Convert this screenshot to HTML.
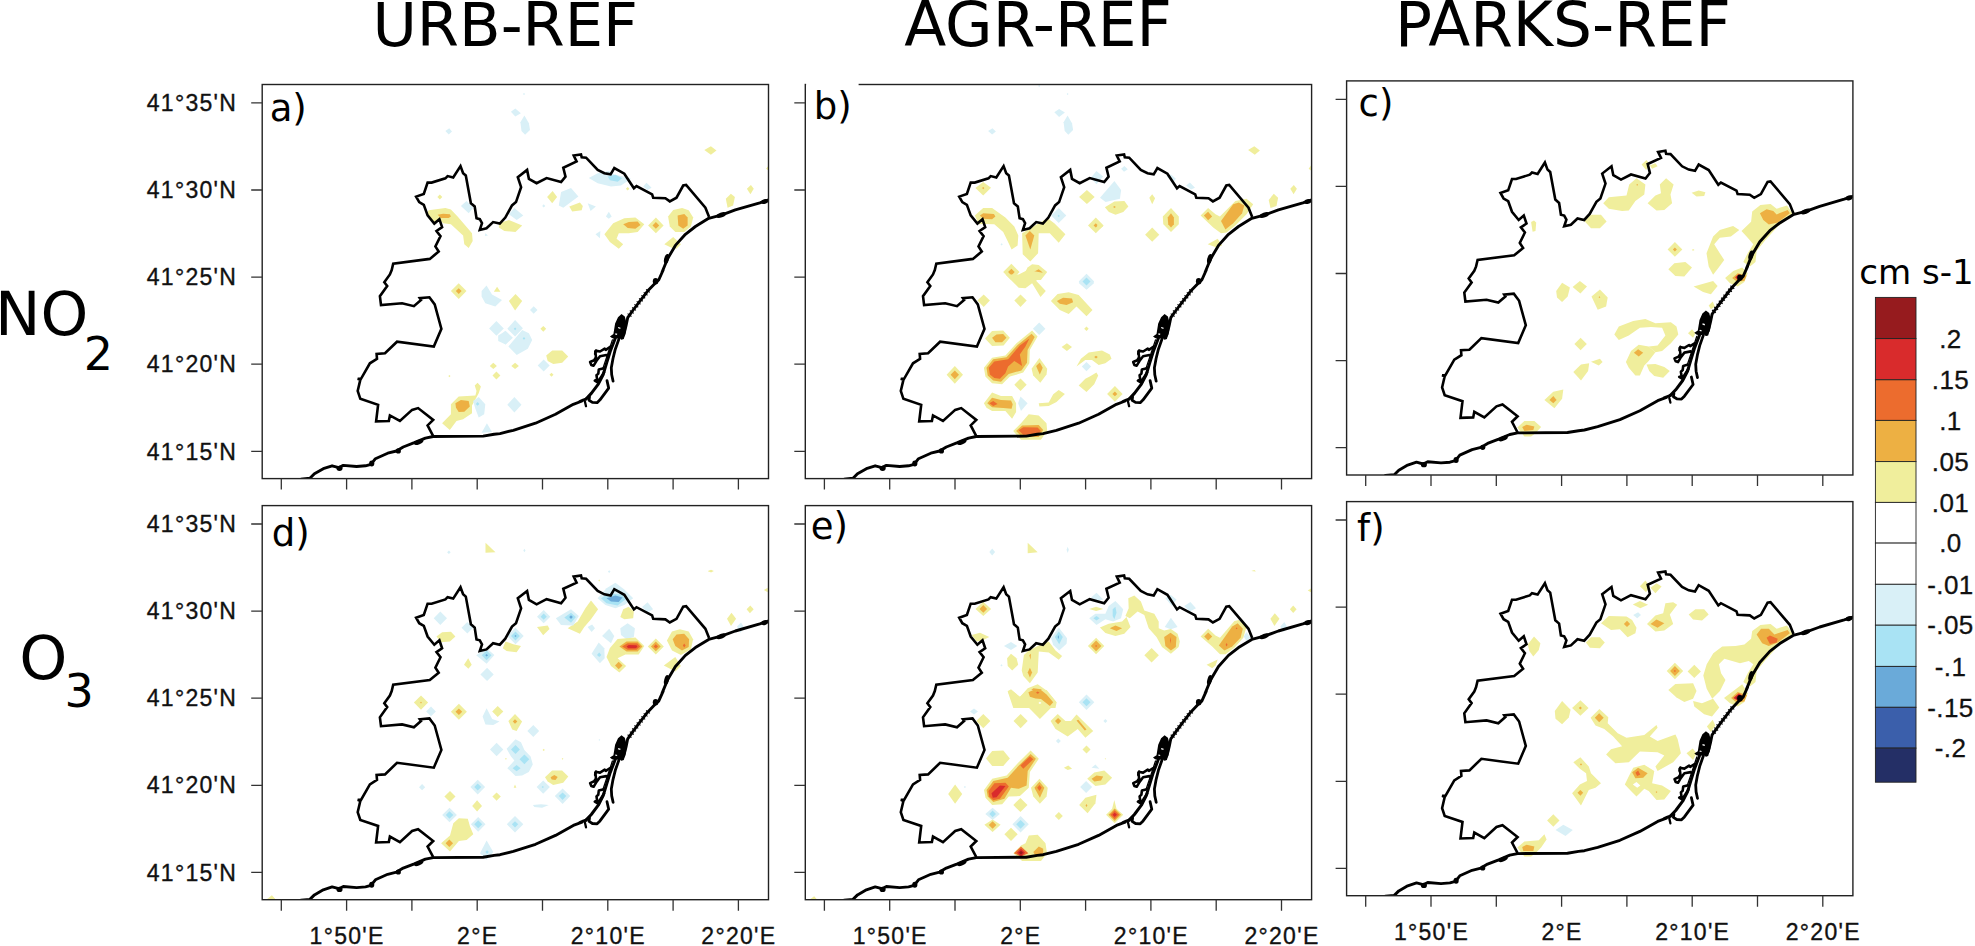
<!DOCTYPE html>
<html><head><meta charset="utf-8"><title>Figure</title>
<style>html,body{margin:0;padding:0;background:#fff}svg{display:block}.t{font-family:"Liberation Sans",sans-serif;font-size:23px;fill:#111;stroke:#111;stroke-width:0.35px;letter-spacing:1.3px}.cb{font-family:"Liberation Sans",sans-serif;font-size:26px;fill:#111;stroke:#111;stroke-width:0.3px;letter-spacing:0.4px}.d{font-family:"DejaVu Sans","Liberation Sans",sans-serif;fill:#000}.fr{fill:none;stroke:#222;stroke-width:1.4}.tk{stroke:#333;stroke-width:1.3;fill:none}.co{fill:none;stroke:#000;stroke-width:2.9;stroke-linejoin:round;stroke-linecap:round}.ou{fill:none;stroke:#000;stroke-width:2.6;stroke-linejoin:miter}</style></head><body>
<svg width="1975" height="946" viewBox="0 0 1975 946">
<rect width="1975" height="946" fill="#fff"/>
<defs><clipPath id="cp"><rect x="0" y="0" width="506.3" height="394.1"/></clipPath></defs>
<g transform="translate(262.2,84.5)">
<g clip-path="url(#cp)">
<polygon points="183.2,46.6 187.0,43.7 189.8,47.0 186.5,49.9" fill="#d9f0f7"/>
<polygon points="248.7,27.2 253.1,23.9 258.7,28.8 253.1,32.1" fill="#d9f0f7"/>
<polygon points="175.2,112.5 177.6,110.1 180.1,112.5 177.6,114.9" fill="#f0ee9c"/>
<polygon points="164.3,129.4 166.5,125.8 183.2,123.6 188.7,124.9 195.4,132.0 209.8,148.7 210.5,156.5 206.5,163.6 202.1,159.8 200.9,150.9 188.7,139.8 181.0,138.7 176.5,134.7 172.1,139.1 165.4,132.0" fill="#f0ee9c"/>
<polygon points="175.4,130.3 181.0,129.2 187.6,129.8 188.7,132.0 186.5,133.6 178.7,133.6" fill="#edb043"/>
<polygon points="198.7,121.4 204.3,116.5 210.9,123.2 206.5,128.7" fill="#d9f0f7"/>
<polygon points="223.1,148.7 225.8,150.9 222.7,151.6" fill="#d9f0f7"/>
<polygon points="260.7,9.5 261.8,8.4 262.9,9.5 261.8,10.6" fill="#d9f0f7"/>
<polygon points="258.2,37.7 262.2,31.0 266.7,38.8 267.8,45.4 262.9,50.3 259.3,46.6" fill="#d9f0f7"/>
<polygon points="442.1,65.4 448.7,61.7 454.3,65.9 448.7,70.3" fill="#f0ee9c"/>
<polygon points="503.8,84.3 506.5,81.0 506.5,85.9" fill="#f0ee9c"/>
<polygon points="326.6,93.6 335.5,88.7 346.6,86.5 352.1,89.9 361.0,92.1 368.8,94.3 358.8,101.0 348.8,102.1 335.5,98.7" fill="#d9f0f7"/>
<polygon points="345.5,92.1 353.3,90.3 359.9,93.8 355.5,97.2 347.7,95.8" fill="#a9e3f4"/>
<polygon points="381.0,102.1 384.3,98.3 389.4,103.2 385.4,105.4" fill="#d9f0f7"/>
<polygon points="363.7,104.3 365.5,102.5 367.2,104.3 365.5,106.1" fill="#f0ee9c"/>
<polygon points="284.9,112.5 290.4,106.5 294.9,112.5 290.0,118.7" fill="#f0ee9c"/>
<polygon points="298.9,107.6 308.8,103.6 316.2,112.1 308.8,117.6 301.1,123.2 296.6,120.9" fill="#d9f0f7"/>
<polygon points="307.1,122.0 317.7,118.0 320.6,121.4 319.5,125.8 310.0,126.9" fill="#f0ee9c"/>
<polygon points="325.5,118.7 333.7,122.0 328.4,126.5" fill="#d9f0f7"/>
<polygon points="280.0,121.4 281.5,119.8 283.1,121.4 281.5,122.9" fill="#d9f0f7"/>
<polygon points="343.7,132.0 346.6,127.2 349.5,132.0 346.6,134.3" fill="#d9f0f7"/>
<polygon points="246.7,129.8 252.2,123.6 261.1,130.9 254.5,135.4" fill="#d9f0f7"/>
<polygon points="236.7,138.7 246.7,135.4 260.0,140.9 253.3,147.6 242.2,146.5 236.7,143.1" fill="#f0ee9c"/>
<polygon points="342.2,149.8 351.0,138.7 362.1,133.8 373.2,133.1 382.1,139.8 375.5,147.6 366.6,148.7 356.6,148.7 354.4,154.2 361.0,159.8 356.6,164.2 347.7,157.6" fill="#f0ee9c"/>
<polygon points="361.0,139.8 366.6,137.6 375.5,137.1 378.3,140.5 373.2,144.2 365.5,143.6" fill="#edb043"/>
<polygon points="385.9,140.9 393.7,133.1 401.4,140.9 393.7,148.7" fill="#f0ee9c"/>
<polygon points="390.3,140.9 393.7,137.6 397.0,140.9 393.7,144.2" fill="#edb043"/>
<polygon points="405.9,132.0 411.0,125.4 419.9,123.6 426.5,125.8 431.0,133.1 428.7,142.0 422.1,147.6 413.2,147.6 407.6,142.0" fill="#f0ee9c"/>
<polygon points="415.4,130.9 422.1,129.4 425.4,133.1 425.4,140.9 421.0,144.2 416.1,140.9" fill="#edb043"/>
<polygon points="402.1,159.8 411.0,152.5 418.8,159.8 414.3,164.2 408.8,163.1" fill="#f0ee9c"/>
<polygon points="333.3,149.8 338.2,146.5 337.7,153.8" fill="#d9f0f7"/>
<polygon points="463.6,114.3 468.7,109.2 472.7,112.5 470.9,120.9 465.4,123.2" fill="#f0ee9c"/>
<polygon points="484.7,104.3 488.7,100.5 491.6,104.3 488.2,109.8" fill="#f0ee9c"/>
<polygon points="188.7,206.6 196.5,198.8 204.3,206.6 196.5,214.4" fill="#f0ee9c"/>
<polygon points="193.6,206.6 196.5,203.7 199.4,206.6 196.5,209.5" fill="#edb043"/>
<polygon points="219.4,206.6 224.3,201.0 229.8,209.9 239.8,215.5 233.1,222.1 223.1,218.8 219.4,212.1" fill="#d9f0f7"/>
<polygon points="231.6,207.3 234.9,202.2 238.2,207.3" fill="#f0ee9c"/>
<polygon points="226.9,243.9 234.2,236.6 241.6,243.9 234.2,251.2" fill="#d9f0f7"/>
<polygon points="236.2,253.2 243.1,246.3 250.0,253.2 243.1,260.1" fill="#d9f0f7"/>
<polygon points="230.3,291.0 234.2,287.0 238.2,291.0 234.2,295.0" fill="#f0ee9c"/>
<polygon points="186.1,291.6 187.2,290.5 188.3,291.6 187.2,292.7" fill="#f0ee9c"/>
<polygon points="179.9,338.7 188.7,329.8 188.7,319.8 196.5,312.1 213.2,310.9 214.3,306.5 212.5,301.0 215.4,298.3 218.7,302.1 216.5,308.7 209.8,320.9 209.8,328.7 200.9,334.7 194.3,336.5 187.6,345.4" fill="#f0ee9c"/>
<polygon points="193.2,318.7 198.7,315.4 206.5,316.5 207.6,322.0 202.1,327.2 196.5,327.6 193.8,323.2" fill="#edb043"/>
<polygon points="210.9,316.5 216.5,312.5 223.1,319.8 222.0,329.8 216.5,333.1 213.2,324.3" fill="#d9f0f7"/>
<polygon points="213.6,319.4 215.4,317.6 217.2,319.4 215.4,321.2" fill="#a9e3f4"/>
<polygon points="219.4,348.2 224.7,338.7 229.8,347.6" fill="#d9f0f7"/>
<polygon points="246.7,216.6 253.3,209.5 260.0,216.6 252.9,226.1" fill="#f0ee9c"/>
<polygon points="267.8,225.5 271.5,221.7 275.3,225.5 271.5,229.2" fill="#d9f0f7"/>
<polygon points="245.1,244.3 252.9,235.5 260.7,243.7 252.9,252.1" fill="#d9f0f7"/>
<polygon points="236.0,251.0 243.4,246.6 250.7,253.2 243.4,259.9 236.0,256.5" fill="#d9f0f7"/>
<polygon points="246.2,262.1 260.0,245.4 266.7,248.8 270.0,255.4 265.6,264.3 254.5,270.5" fill="#d9f0f7"/>
<polygon points="251.6,244.3 252.9,243.0 254.2,244.3 252.9,245.7" fill="#a9e3f4"/>
<polygon points="260.4,253.9 261.8,252.6 263.1,253.9 261.8,255.2" fill="#a9e3f4"/>
<polygon points="278.2,244.3 281.1,241.5 284.0,244.3 281.1,247.2" fill="#f0ee9c"/>
<polygon points="284.0,271.0 290.0,265.9 300.0,265.9 306.0,272.1 300.0,278.3 291.1,279.4 285.5,276.5" fill="#f0ee9c"/>
<polygon points="275.5,281.0 281.5,275.0 287.5,281.0 281.5,287.0" fill="#d9f0f7"/>
<polygon points="249.1,281.4 252.9,278.3 256.7,281.4 252.9,284.5" fill="#f0ee9c"/>
<polygon points="287.3,290.3 289.3,288.3 291.3,290.3 289.3,292.3" fill="#f0ee9c"/>
<polygon points="245.1,320.3 252.2,312.5 259.3,320.3 252.2,328.0" fill="#d9f0f7"/>
<polygon points="227.6,281.4 231.1,278.3 234.7,281.4 231.1,284.5" fill="#f0ee9c"/>
<polyline class="co" points="507.8,114.9 497.6,118.3 473.1,125.4 459.8,130.3 446.5,133.8 433.2,142.0 423.2,149.8 413.2,160.9 405.4,174.2 399.9,187.5 401.0,185.5 396.5,195.5 393.2,198.4 385.4,206.6 377.7,216.6 371.0,225.5 365.5,233.2 363.9,241.0 361.7,249.9 359.5,253.2"/>
<polyline class="co" points="323.8,314.5 320.9,315.6 317.5,317.0 319.9,316.5 311.1,319.8 293.3,329.8 273.3,338.7 251.1,345.8 237.8,349.1 232.0,349.8 220.9,351.6 171.0,352.0 163.2,353.6 152.1,358.2 141.0,362.5 134.3,366.5 125.5,368.7 113.2,374.2 108.8,379.8 103.3,381.3 94.4,382.0 81.1,380.9 76.6,383.1 69.9,381.3 61.1,384.2 52.2,389.3 47.7,393.8 38.9,394.6"/>
<polyline points="386.1,205.9 377.7,216.6 371.0,225.5 367.0,231.0" fill="none" stroke="#000" stroke-width="4.8" stroke-dasharray="1.1 2.7"/>
<ellipse cx="459.0" cy="130.6" rx="5.0" ry="2.4" transform="rotate(-20 459.0 130.6)" fill="#000"/>
<ellipse cx="502.5" cy="117.0" rx="3.6" ry="2.4" transform="rotate(-15 502.5 117.0)" fill="#000"/>
<ellipse cx="404.4" cy="174.4" rx="2.4" ry="5.0" transform="rotate(15 404.4 174.4)" fill="#000"/>
<ellipse cx="393.4" cy="196.7" rx="2.8" ry="3.2" transform="rotate(0 393.4 196.7)" fill="#000"/>
<ellipse cx="156.5" cy="357.6" rx="5.0" ry="2.2" transform="rotate(-22 156.5 357.6)" fill="#000"/>
<ellipse cx="136.1" cy="366.4" rx="2.6" ry="2.6" transform="rotate(0 136.1 366.4)" fill="#000"/>
<ellipse cx="109.5" cy="379.1" rx="2.6" ry="3.0" transform="rotate(0 109.5 379.1)" fill="#000"/>
<ellipse cx="77.3" cy="383.8" rx="3.0" ry="2.6" transform="rotate(0 77.3 383.8)" fill="#000"/>
<polyline class="ou" points="171.0,351.6 165.4,340.9 171.0,335.4 155.9,323.6 149.9,325.4 137.7,336.5 127.7,330.9 126.6,336.5 113.9,336.9 115.9,320.3 98.1,314.3 95.5,306.5 98.1,295.4 95.5,294.3 98.8,294.3 107.7,278.8 114.8,274.3 114.4,269.4 122.8,268.8 134.8,257.2 171.6,262.1 179.2,244.3 172.5,219.9 167.2,212.8 157.6,213.7 158.8,215.5 151.7,221.7 139.9,218.8 118.8,220.6 117.7,211.7 125.0,201.5 122.1,197.7 127.7,189.9 129.5,185.5 131.0,179.1 167.6,174.4 176.5,167.1 173.2,162.0 178.3,151.6 174.3,146.5 179.9,142.7 177.2,134.7 172.1,139.1 165.4,130.9 161.6,120.3 157.0,117.6 153.9,112.1 161.6,109.4 165.4,98.1 169.4,98.1 183.2,93.8 185.4,91.6 191.0,93.0 198.3,81.6 200.9,88.7 203.6,91.0 208.7,118.7 212.5,122.0 214.3,133.8 217.6,134.7 219.8,138.7 217.6,145.4 224.3,143.8 230.9,137.6 237.6,139.1 243.1,133.1 249.8,120.9 253.8,117.6 258.9,102.7 255.6,92.7 264.9,85.4 266.7,94.3 274.4,98.7 284.4,93.6 298.9,97.6 303.3,92.1 301.1,83.2 314.4,77.0 311.5,71.0 318.8,69.9 319.5,72.8 323.9,73.2 335.5,85.4 342.2,88.7 348.4,89.9 352.1,83.6 362.1,89.2 371.7,103.8 374.3,101.6 389.9,109.8 391.0,113.2 403.2,113.8 407.6,116.9 414.3,113.2 421.0,101.0 423.9,100.5 443.2,123.2 446.9,132.5"/>
<polygon points="359.3,229.6 362.6,232.1 364.5,239.1 363.7,247.2 361.6,254.5 359.3,255.2 357.6,253.6 352.9,254.5 349.8,253.6 347.7,251.9 351.2,249.6 352.9,239.1 355.8,232.7" fill="#000"/>
<polygon points="356.1,242.4 358.4,243.2 358.0,244.5 355.7,243.6" fill="#fff"/>
<polygon points="353.3,248.8 355.1,249.3 354.7,250.5 352.8,249.9" fill="#fff"/>
<polyline points="356.8,254.2 353.1,264.7 350.8,274.0 349.1,283.3 349.5,290.3 350.9,296.7" fill="none" stroke="#000" stroke-width="2.8" stroke-linejoin="round" stroke-linecap="round"/>
<polyline points="352.9,254.2 348.0,267.0 344.4,278.6 340.9,290.3 336.1,299.6 329.1,308.9 323.8,314.5" fill="none" stroke="#000" stroke-width="3.0" stroke-linejoin="round" stroke-linecap="round"/>
<polyline points="350.2,255.4 345.6,269.3 340.7,283.9" fill="none" stroke="#000" stroke-width="1.3" stroke-linejoin="round" stroke-linecap="round"/>
<polyline points="348.0,262.4 343.6,265.3 342.5,264.1 337.8,267.0 334.3,266.4 333.1,267.0 333.8,272.8 332.0,275.7 327.9,277.5 329.1,280.4 331.4,281.2 334.3,276.3 337.8,271.7 344.2,270.5 345.9,272.2" fill="none" stroke="#000" stroke-width="2.6" stroke-linejoin="round" stroke-linecap="round"/>
<polyline points="340.7,283.9 336.6,285.0 336.1,289.1 334.3,290.8 334.9,294.9 332.6,296.1 335.5,297.8 341.9,287.9" fill="none" stroke="#000" stroke-width="2.6" stroke-linejoin="round" stroke-linecap="round"/>
<polyline points="344.8,296.1 346.5,303.6 337.8,315.3 334.9,318.2 330.2,317.9 326.8,315.8 327.3,312.4" fill="none" stroke="#000" stroke-width="2.8" stroke-linejoin="round" stroke-linecap="round"/>
<polyline points="322.7,317.0 323.8,321.7" fill="none" stroke="#000" stroke-width="2.3" stroke-linejoin="round" stroke-linecap="round"/>
<polyline points="333.7,265.8 332.8,269.3" fill="none" stroke="#000" stroke-width="2.3" stroke-linejoin="round" stroke-linecap="round"/>
</g>
<rect class="fr" x="0" y="0" width="506.3" height="394.1"/>
<path class="tk" d="M19.1 394.1v11M84.4 394.1v11M149.7 394.1v11M215.0 394.1v11M280.3 394.1v11M345.6 394.1v11M410.9 394.1v11M476.2 394.1v11M0 18.4h-11M0 105.5h-11M0 192.6h-11M0 279.7h-11M0 366.8h-11"/>
<text class="d" x="7.5" y="36.0" font-size="37">a)</text>
<text class="t" x="-25" y="26.6" text-anchor="end">41°35'N</text>
<text class="t" x="-25" y="113.7" text-anchor="end">41°30'N</text>
<text class="t" x="-25" y="200.8" text-anchor="end">41°25'N</text>
<text class="t" x="-25" y="287.9" text-anchor="end">41°20'N</text>
<text class="t" x="-25" y="375.0" text-anchor="end">41°15'N</text>
</g>
<g transform="translate(805.3,84.5)">
<g clip-path="url(#cp)">
<polygon points="232.8,1.5 233.9,0.4 235.0,1.5 233.9,2.6" fill="#d9f0f7"/>
<polygon points="261.4,9.5 262.3,8.6 263.2,9.5 262.3,10.4" fill="#d9f0f7"/>
<polygon points="249.0,27.7 253.8,24.4 259.6,28.1 253.8,32.6" fill="#d9f0f7"/>
<polygon points="258.3,37.7 262.3,31.0 266.7,38.8 267.8,45.4 263.0,50.3 259.4,46.6" fill="#d9f0f7"/>
<polygon points="182.8,46.6 187.2,43.7 190.6,47.0 186.8,49.9" fill="#d9f0f7"/>
<polygon points="170.1,103.6 177.9,97.6 185.7,103.2 177.9,110.9" fill="#f0ee9c"/>
<polygon points="176.8,103.6 177.9,102.5 179.0,103.6 177.9,104.7" fill="#edb043"/>
<polygon points="169.5,130.9 177.9,123.6 186.8,123.6 200.1,133.1 209.0,142.0 213.0,150.9 212.3,160.9 206.3,164.9 202.3,156.5 197.9,147.6 189.0,139.8 179.0,139.4 173.5,139.8" fill="#f0ee9c"/>
<polygon points="174.6,130.9 177.9,128.7 188.6,129.4 190.1,132.0 186.8,134.7 177.9,134.3" fill="#edb043"/>
<polygon points="216.8,148.7 222.3,145.4 233.4,138.7 242.3,133.8 249.0,138.7 260.1,149.8 253.4,158.2 244.5,148.7 233.4,148.7 232.8,168.7 225.0,176.9 217.4,169.8" fill="#f0ee9c"/>
<polygon points="220.1,150.9 224.5,146.5 229.0,150.9 225.0,164.9" fill="#edb043"/>
<polygon points="245.9,130.9 253.4,123.4 261.0,130.9 253.4,138.5" fill="#d9f0f7"/>
<polygon points="252.3,131.4 253.4,130.3 254.5,131.4 253.4,132.5" fill="#a9e3f4"/>
<polygon points="273.8,112.5 281.6,105.4 289.4,112.5 281.6,119.6" fill="#f0ee9c"/>
<polygon points="285.6,93.2 291.1,86.5 297.8,92.1 291.1,99.8" fill="#d9f0f7"/>
<polygon points="282.7,140.9 290.5,133.1 298.3,140.9 290.5,148.7" fill="#f0ee9c"/>
<polygon points="288.3,140.9 290.5,138.7 292.7,140.9 290.5,143.1" fill="#edb043"/>
<polygon points="195.2,159.8 196.3,158.7 197.5,159.8 196.3,160.9" fill="#d9f0f7"/>
<polygon points="197.9,187.5 206.1,179.3 214.3,187.5 206.1,195.8" fill="#f0ee9c"/>
<polygon points="202.8,187.5 206.1,184.2 209.4,187.5 206.1,190.9" fill="#edb043"/>
<polygon points="215.7,195.5 222.3,183.1 226.8,179.8 233.4,180.4 241.9,187.5 235.6,195.5" fill="#f0ee9c"/>
<polygon points="227.2,188.0 233.4,184.7 237.4,188.0 233.4,191.3" fill="#edb043"/>
<polygon points="273.4,198.6 281.2,189.8 288.9,198.6 281.2,205.3" fill="#d9f0f7"/>
<polygon points="315.8,84.3 319.1,81.4 322.5,84.7 318.7,87.2" fill="#d9f0f7"/>
<polygon points="294.7,113.2 309.1,96.5 315.8,105.4 314.7,114.3 300.3,117.6" fill="#d9f0f7"/>
<polygon points="299.6,122.7 309.1,116.9 319.1,116.5 323.1,122.0 318.0,127.6 310.2,130.3 303.6,127.6" fill="#f0ee9c"/>
<polygon points="307.8,122.5 309.1,121.6 310.5,122.5 309.1,123.4" fill="#edb043"/>
<polygon points="291.4,141.4 294.7,138.5 298.0,141.4 294.7,144.2" fill="#f0ee9c"/>
<polygon points="344.0,113.2 346.9,109.8 349.8,113.8 346.9,119.8" fill="#f0ee9c"/>
<polygon points="357.5,132.0 365.7,123.6 373.5,132.0 373.5,139.8 365.7,147.6 358.0,139.8" fill="#f0ee9c"/>
<polygon points="362.4,133.1 365.7,128.7 368.6,133.1 368.6,139.8 365.7,143.1 362.9,139.8" fill="#edb043"/>
<polygon points="339.8,150.2 346.9,143.1 354.0,150.2 346.9,157.3" fill="#f0ee9c"/>
<polygon points="361.3,92.1 365.7,89.9 370.6,94.3 368.0,97.6" fill="#d9f0f7"/>
<polygon points="380.8,101.0 384.6,98.1 389.7,103.2 385.7,104.9" fill="#d9f0f7"/>
<polygon points="395.3,130.9 402.8,123.6 410.2,129.8 414.6,132.0 430.1,116.5 441.2,114.3 447.9,119.8 441.2,129.8 430.1,140.9 421.3,148.0 415.7,148.7 407.9,143.1" fill="#f0ee9c"/>
<polygon points="398.6,130.9 402.8,127.2 406.8,132.0 402.8,135.8" fill="#edb043"/>
<polygon points="415.7,136.5 427.9,119.8 433.5,118.0 439.0,120.9 436.8,128.7 427.9,138.7 420.1,144.9" fill="#edb043"/>
<polygon points="402.4,159.8 412.4,154.2 416.8,160.9 411.3,163.1" fill="#f0ee9c"/>
<polygon points="442.8,65.4 449.0,61.7 454.6,65.9 449.5,70.3" fill="#f0ee9c"/>
<polygon points="503.4,84.3 505.6,81.0 505.6,85.9" fill="#f0ee9c"/>
<polygon points="463.4,115.4 468.5,109.2 472.8,113.2 471.2,121.4 465.2,123.6" fill="#f0ee9c"/>
<polygon points="485.0,104.3 488.5,100.5 491.6,104.3 488.3,109.8" fill="#f0ee9c"/>
<polygon points="200.1,189.9 213.4,203.3 220.1,203.7 226.8,198.8 235.2,212.6 240.5,206.6 230.8,196.2 240.1,188.8 222.3,185.5 213.4,189.9" fill="#f0ee9c"/>
<polygon points="273.4,197.0 281.2,189.3 288.9,197.0 281.2,204.8" fill="#d9f0f7"/>
<polygon points="277.2,197.0 281.2,193.0 285.2,197.0 281.2,201.0" fill="#a9e3f4"/>
<polygon points="172.1,216.1 178.4,209.9 184.6,216.1 178.4,222.4" fill="#f0ee9c"/>
<polygon points="209.0,216.1 215.2,209.9 221.4,216.1 215.2,222.4" fill="#f0ee9c"/>
<polygon points="245.6,216.6 252.3,209.5 263.4,207.7 273.4,210.4 287.2,225.5 281.2,231.7 271.2,222.1 263.4,229.5 254.5,225.5" fill="#f0ee9c"/>
<polygon points="251.6,216.6 257.8,213.3 266.7,213.9 267.8,217.7 261.2,220.4 254.5,219.2" fill="#edb043"/>
<polygon points="227.6,244.3 233.9,238.1 240.1,244.3 233.9,250.6" fill="#d9f0f7"/>
<polygon points="278.9,244.3 281.2,242.1 283.4,244.3 281.2,246.6" fill="#f0ee9c"/>
<polygon points="179.7,253.9 186.8,246.6 197.9,245.9 204.6,253.2 198.3,261.0 186.8,261.4" fill="#f0ee9c"/>
<polygon points="186.8,253.2 191.2,249.9 197.9,249.4 201.2,253.2 196.8,257.7 190.1,257.7" fill="#edb043"/>
<polygon points="178.6,283.2 186.8,273.2 200.1,271.0 211.2,258.8 226.8,245.9 232.3,252.1 224.5,265.4 224.1,278.8 217.9,288.1 204.6,292.1 196.8,299.8 186.8,298.7 180.1,292.1" fill="#f0ee9c"/>
<polygon points="181.2,283.2 187.9,274.8 201.2,272.8 212.3,260.5 226.3,249.2 229.4,252.6 222.3,265.4 221.7,278.3 216.1,285.9 203.4,289.4 195.7,297.2 187.9,296.1 182.4,291.0" fill="#edb043"/>
<polygon points="183.5,283.2 189.0,277.0 202.8,274.8 214.5,261.0 224.1,253.9 220.1,262.1 214.5,269.9 216.8,281.4 209.0,276.5 202.8,282.1 200.1,288.7 194.6,294.3 189.0,293.6 184.6,289.9" fill="#ec6c2e"/>
<polygon points="141.3,290.3 149.5,281.4 157.7,290.3 149.5,299.2" fill="#f0ee9c"/>
<polygon points="145.3,290.3 149.5,285.9 153.7,290.3 149.5,294.7" fill="#edb043"/>
<polygon points="226.3,284.3 234.1,273.6 241.9,284.3 241.2,289.9 235.0,298.3 227.9,291.0" fill="#f0ee9c"/>
<polygon points="230.8,281.4 234.5,278.1 237.4,283.2 234.5,289.9" fill="#edb043"/>
<polygon points="209.0,300.3 215.2,294.1 221.4,300.3 215.2,306.5" fill="#f0ee9c"/>
<polygon points="256.3,262.5 261.6,258.8 266.7,262.5 261.6,266.5" fill="#f0ee9c"/>
<polygon points="271.2,282.1 275.6,274.3 283.4,268.1 296.7,265.9 304.5,269.9 306.2,274.3 300.0,278.8 293.4,280.5 286.7,275.4 280.0,275.4" fill="#f0ee9c"/>
<polygon points="288.9,272.5 290.7,271.2 292.5,272.5 290.7,273.9" fill="#edb043"/>
<polygon points="276.5,282.1 281.2,277.4 285.8,282.1 281.2,286.7" fill="#d9f0f7"/>
<polygon points="273.4,301.0 280.0,294.3 284.5,292.1 291.1,288.1 292.9,291.0 288.9,299.8 281.2,307.6" fill="#f0ee9c"/>
<polygon points="178.6,318.7 186.8,308.1 195.7,311.6 206.8,311.6 210.8,318.7 210.8,327.6 206.8,334.3 200.1,326.5 186.8,326.5 181.2,323.2" fill="#f0ee9c"/>
<polygon points="181.9,318.7 186.8,313.2 195.7,315.4 205.7,316.1 207.4,319.8 206.3,324.3 197.9,323.6 186.8,322.7" fill="#edb043"/>
<polygon points="184.1,318.7 187.9,316.5 192.3,319.4 187.9,321.4" fill="#ec6c2e"/>
<polygon points="212.8,318.7 215.2,312.1 222.3,318.7 215.7,326.5" fill="#d9f0f7"/>
<polygon points="233.4,318.7 243.4,318.0 247.9,309.8 253.4,305.4 259.6,309.4 251.2,317.6 243.4,321.4 234.1,322.0" fill="#f0ee9c"/>
<polygon points="207.9,346.5 215.7,338.7 223.4,329.8 233.4,330.9 241.2,338.7 241.9,346.5 235.6,355.3 215.7,355.3" fill="#f0ee9c"/>
<polygon points="210.8,346.5 216.8,340.9 233.4,340.5 237.9,345.4 233.4,352.5 216.8,352.5" fill="#edb043"/>
<polygon points="213.4,345.8 217.9,342.7 232.3,343.1 235.6,346.5 231.2,350.9 217.9,350.2" fill="#ec6c2e"/>
<polygon points="301.8,309.4 309.6,301.6 317.3,309.4 309.6,317.2" fill="#f0ee9c"/>
<polygon points="307.1,309.4 309.6,306.9 312.0,309.4 309.6,311.8" fill="#edb043"/>
<polyline class="co" points="507.8,114.9 497.6,118.3 473.1,125.4 459.8,130.3 446.5,133.8 433.2,142.0 423.2,149.8 413.2,160.9 405.4,174.2 399.9,187.5 401.0,185.5 396.5,195.5 393.2,198.4 385.4,206.6 377.7,216.6 371.0,225.5 365.5,233.2 363.9,241.0 361.7,249.9 359.5,253.2"/>
<polyline class="co" points="323.8,314.5 320.9,315.6 317.5,317.0 319.9,316.5 311.1,319.8 293.3,329.8 273.3,338.7 251.1,345.8 237.8,349.1 232.0,349.8 220.9,351.6 171.0,352.0 163.2,353.6 152.1,358.2 141.0,362.5 134.3,366.5 125.5,368.7 113.2,374.2 108.8,379.8 103.3,381.3 94.4,382.0 81.1,380.9 76.6,383.1 69.9,381.3 61.1,384.2 52.2,389.3 47.7,393.8 38.9,394.6"/>
<polyline points="386.1,205.9 377.7,216.6 371.0,225.5 367.0,231.0" fill="none" stroke="#000" stroke-width="4.8" stroke-dasharray="1.1 2.7"/>
<ellipse cx="459.0" cy="130.6" rx="5.0" ry="2.4" transform="rotate(-20 459.0 130.6)" fill="#000"/>
<ellipse cx="502.5" cy="117.0" rx="3.6" ry="2.4" transform="rotate(-15 502.5 117.0)" fill="#000"/>
<ellipse cx="404.4" cy="174.4" rx="2.4" ry="5.0" transform="rotate(15 404.4 174.4)" fill="#000"/>
<ellipse cx="393.4" cy="196.7" rx="2.8" ry="3.2" transform="rotate(0 393.4 196.7)" fill="#000"/>
<ellipse cx="156.5" cy="357.6" rx="5.0" ry="2.2" transform="rotate(-22 156.5 357.6)" fill="#000"/>
<ellipse cx="136.1" cy="366.4" rx="2.6" ry="2.6" transform="rotate(0 136.1 366.4)" fill="#000"/>
<ellipse cx="109.5" cy="379.1" rx="2.6" ry="3.0" transform="rotate(0 109.5 379.1)" fill="#000"/>
<ellipse cx="77.3" cy="383.8" rx="3.0" ry="2.6" transform="rotate(0 77.3 383.8)" fill="#000"/>
<polyline class="ou" points="171.0,351.6 165.4,340.9 171.0,335.4 155.9,323.6 149.9,325.4 137.7,336.5 127.7,330.9 126.6,336.5 113.9,336.9 115.9,320.3 98.1,314.3 95.5,306.5 98.1,295.4 95.5,294.3 98.8,294.3 107.7,278.8 114.8,274.3 114.4,269.4 122.8,268.8 134.8,257.2 171.6,262.1 179.2,244.3 172.5,219.9 167.2,212.8 157.6,213.7 158.8,215.5 151.7,221.7 139.9,218.8 118.8,220.6 117.7,211.7 125.0,201.5 122.1,197.7 127.7,189.9 129.5,185.5 131.0,179.1 167.6,174.4 176.5,167.1 173.2,162.0 178.3,151.6 174.3,146.5 179.9,142.7 177.2,134.7 172.1,139.1 165.4,130.9 161.6,120.3 157.0,117.6 153.9,112.1 161.6,109.4 165.4,98.1 169.4,98.1 183.2,93.8 185.4,91.6 191.0,93.0 198.3,81.6 200.9,88.7 203.6,91.0 208.7,118.7 212.5,122.0 214.3,133.8 217.6,134.7 219.8,138.7 217.6,145.4 224.3,143.8 230.9,137.6 237.6,139.1 243.1,133.1 249.8,120.9 253.8,117.6 258.9,102.7 255.6,92.7 264.9,85.4 266.7,94.3 274.4,98.7 284.4,93.6 298.9,97.6 303.3,92.1 301.1,83.2 314.4,77.0 311.5,71.0 318.8,69.9 319.5,72.8 323.9,73.2 335.5,85.4 342.2,88.7 348.4,89.9 352.1,83.6 362.1,89.2 371.7,103.8 374.3,101.6 389.9,109.8 391.0,113.2 403.2,113.8 407.6,116.9 414.3,113.2 421.0,101.0 423.9,100.5 443.2,123.2 446.9,132.5"/>
<polygon points="359.3,229.6 362.6,232.1 364.5,239.1 363.7,247.2 361.6,254.5 359.3,255.2 357.6,253.6 352.9,254.5 349.8,253.6 347.7,251.9 351.2,249.6 352.9,239.1 355.8,232.7" fill="#000"/>
<polygon points="356.1,242.4 358.4,243.2 358.0,244.5 355.7,243.6" fill="#fff"/>
<polygon points="353.3,248.8 355.1,249.3 354.7,250.5 352.8,249.9" fill="#fff"/>
<polyline points="356.8,254.2 353.1,264.7 350.8,274.0 349.1,283.3 349.5,290.3 350.9,296.7" fill="none" stroke="#000" stroke-width="2.8" stroke-linejoin="round" stroke-linecap="round"/>
<polyline points="352.9,254.2 348.0,267.0 344.4,278.6 340.9,290.3 336.1,299.6 329.1,308.9 323.8,314.5" fill="none" stroke="#000" stroke-width="3.0" stroke-linejoin="round" stroke-linecap="round"/>
<polyline points="350.2,255.4 345.6,269.3 340.7,283.9" fill="none" stroke="#000" stroke-width="1.3" stroke-linejoin="round" stroke-linecap="round"/>
<polyline points="348.0,262.4 343.6,265.3 342.5,264.1 337.8,267.0 334.3,266.4 333.1,267.0 333.8,272.8 332.0,275.7 327.9,277.5 329.1,280.4 331.4,281.2 334.3,276.3 337.8,271.7 344.2,270.5 345.9,272.2" fill="none" stroke="#000" stroke-width="2.6" stroke-linejoin="round" stroke-linecap="round"/>
<polyline points="340.7,283.9 336.6,285.0 336.1,289.1 334.3,290.8 334.9,294.9 332.6,296.1 335.5,297.8 341.9,287.9" fill="none" stroke="#000" stroke-width="2.6" stroke-linejoin="round" stroke-linecap="round"/>
<polyline points="344.8,296.1 346.5,303.6 337.8,315.3 334.9,318.2 330.2,317.9 326.8,315.8 327.3,312.4" fill="none" stroke="#000" stroke-width="2.8" stroke-linejoin="round" stroke-linecap="round"/>
<polyline points="322.7,317.0 323.8,321.7" fill="none" stroke="#000" stroke-width="2.3" stroke-linejoin="round" stroke-linecap="round"/>
<polyline points="333.7,265.8 332.8,269.3" fill="none" stroke="#000" stroke-width="2.3" stroke-linejoin="round" stroke-linecap="round"/>
</g>
<rect class="fr" x="0" y="0" width="506.3" height="394.1"/>
<rect x="0.8" y="-1.5" width="52.5" height="3" fill="#fff"/>
<path class="tk" d="M19.1 394.1v11M84.4 394.1v11M149.7 394.1v11M215.0 394.1v11M280.3 394.1v11M345.6 394.1v11M410.9 394.1v11M476.2 394.1v11M0 18.4h-11M0 105.5h-11M0 192.6h-11M0 279.7h-11M0 366.8h-11"/>
<text class="d" x="8.5" y="34.5" font-size="37">b)</text>
</g>
<g transform="translate(1346.6,80.9)">
<g clip-path="url(#cp)">
<polygon points="184.5,141.2 187.4,139.5 189.6,141.7 188.9,150.1 186.0,150.8" fill="#f0ee9c"/>
<polygon points="237.8,140.1 244.4,133.9 254.4,133.9 260.0,140.6 253.3,147.4 244.4,147.4" fill="#f0ee9c"/>
<polygon points="256.6,122.4 262.2,116.4 279.9,114.6 282.6,103.5 289.9,97.3 298.8,103.5 297.7,113.5 288.8,120.1 282.2,129.7 275.5,130.1 262.2,127.9" fill="#f0ee9c"/>
<polygon points="289.7,103.9 290.6,103.0 291.5,103.9 290.6,104.8" fill="#edb043"/>
<polygon points="295.0,83.5 299.9,79.1 303.2,83.5 299.5,89.1" fill="#f0ee9c"/>
<polygon points="303.2,84.6 308.8,82.4 311.0,85.3 305.5,87.9" fill="#f0ee9c"/>
<polygon points="301.0,122.4 308.8,114.6 314.4,112.4 313.2,103.5 319.5,97.3 327.0,103.5 323.9,113.5 325.5,122.4 317.7,129.0 309.9,129.7" fill="#f0ee9c"/>
<polygon points="345.0,111.9 352.1,109.5 358.8,111.3 357.6,115.0 349.9,115.7" fill="#f0ee9c"/>
<polygon points="359.9,172.3 366.5,155.7 373.2,149.0 386.5,145.2 392.7,149.0 384.3,155.7 373.2,156.8 367.6,163.4 373.2,172.3 377.6,179.0 372.1,186.7 366.5,193.9 362.1,185.6" fill="#f0ee9c"/>
<polygon points="321.0,168.5 328.3,161.2 335.7,168.5 328.3,175.9" fill="#f0ee9c"/>
<polygon points="326.3,168.5 328.3,166.5 330.3,168.5 328.3,170.5" fill="#edb043"/>
<polygon points="345.2,169.0 346.5,168.1 347.9,169.0 346.5,169.9" fill="#f0ee9c"/>
<polygon points="321.7,188.3 327.7,182.3 338.8,181.2 345.4,186.7 337.7,195.6 328.8,195.2" fill="#f0ee9c"/>
<polygon points="347.0,205.6 366.5,200.1 371.0,205.2 364.3,213.4 356.5,211.2" fill="#f0ee9c"/>
<polygon points="362.1,224.5 366.1,220.7 368.3,225.6 364.3,228.3" fill="#f0ee9c"/>
<polygon points="209.6,210.1 215.5,201.8 223.3,206.7 221.1,215.6 215.5,221.2 210.4,216.7" fill="#f0ee9c"/>
<polygon points="226.0,206.1 233.3,200.1 240.4,205.6 233.8,212.7" fill="#f0ee9c"/>
<polygon points="244.9,215.6 253.3,208.5 261.1,216.7 259.5,225.6 251.1,228.9" fill="#f0ee9c"/>
<polygon points="252.0,216.3 252.8,215.4 253.7,216.3 252.8,217.2" fill="#edb043"/>
<polygon points="267.7,253.5 272.2,245.7 286.6,240.2 298.8,238.0 308.8,242.4 324.3,241.3 329.9,245.7 331.7,253.5 324.3,262.4 315.5,270.1 308.8,271.3 302.1,265.7 311.0,264.6 318.8,254.6 315.5,246.8 304.4,246.2 293.3,246.8 282.2,254.6 272.2,259.0" fill="#f0ee9c"/>
<polygon points="279.3,281.2 284.4,270.1 292.1,263.9 302.1,265.7 308.8,271.3 302.1,280.1 297.7,284.6 293.3,294.6 288.8,294.6 282.2,286.8" fill="#f0ee9c"/>
<polygon points="287.3,271.9 291.5,268.4 296.6,271.9 292.1,275.7" fill="#edb043"/>
<polygon points="299.9,283.5 308.8,283.0 317.7,286.1 323.2,290.1 316.6,296.8 307.7,295.0 302.6,290.1" fill="#f0ee9c"/>
<polygon points="227.8,263.0 234.0,256.8 240.2,263.0 234.0,269.3" fill="#f0ee9c"/>
<polygon points="244.4,280.8 253.3,277.9 256.0,281.2 252.2,284.6" fill="#f0ee9c"/>
<polygon points="226.7,291.2 234.4,283.5 242.6,282.4 241.5,290.1 234.4,299.5" fill="#f0ee9c"/>
<polygon points="197.8,319.0 206.7,310.8 216.7,308.6 215.5,317.9 207.8,327.4" fill="#f0ee9c"/>
<polygon points="202.9,319.0 206.7,315.2 210.0,319.0 206.7,322.3" fill="#edb043"/>
<polygon points="170.7,346.7 177.8,340.1 187.8,340.1 194.5,346.1 188.9,352.3 184.5,355.6 177.8,355.6" fill="#f0ee9c"/>
<polygon points="175.6,346.1 180.0,343.9 187.8,345.6 186.7,349.0 177.8,350.1" fill="#edb043"/>
<polygon points="341.4,252.4 345.4,248.4 348.8,252.4 346.5,256.8" fill="#f0ee9c"/>
<polygon points="394.9,150.1 404.5,140.8 405.6,130.6 413.8,124.1 424.0,123.0 430.0,127.9 440.4,124.6 446.7,133.5 431.1,145.7 418.9,159.0 410.0,170.1 408.9,181.2 403.4,185.6 396.7,181.2 401.1,172.3 406.7,163.4 401.1,156.8" fill="#f0ee9c"/>
<polygon points="413.3,132.4 420.0,128.4 426.7,130.1 430.0,133.5 441.1,129.0 443.3,132.4 431.1,141.7 422.2,143.5 416.7,139.0" fill="#edb043"/>
<polygon points="378.5,197.2 386.7,190.1 395.6,186.7 401.1,192.3 397.8,201.2 391.1,205.6 383.4,202.3" fill="#f0ee9c"/>
<polygon points="385.6,197.2 391.1,192.3 400.0,194.5 397.8,200.1 390.0,200.7" fill="#edb043"/>
<polygon points="388.5,196.3 392.3,193.0 395.6,197.2 391.6,199.4" fill="#d92b2c"/>
<polyline class="co" points="507.8,114.9 497.6,118.3 473.1,125.4 459.8,130.3 446.5,133.8 433.2,142.0 423.2,149.8 413.2,160.9 405.4,174.2 399.9,187.5 401.0,185.5 396.5,195.5 393.2,198.4 385.4,206.6 377.7,216.6 371.0,225.5 365.5,233.2 363.9,241.0 361.7,249.9 359.5,253.2"/>
<polyline class="co" points="323.8,314.5 320.9,315.6 317.5,317.0 319.9,316.5 311.1,319.8 293.3,329.8 273.3,338.7 251.1,345.8 237.8,349.1 232.0,349.8 220.9,351.6 171.0,352.0 163.2,353.6 152.1,358.2 141.0,362.5 134.3,366.5 125.5,368.7 113.2,374.2 108.8,379.8 103.3,381.3 94.4,382.0 81.1,380.9 76.6,383.1 69.9,381.3 61.1,384.2 52.2,389.3 47.7,393.8 38.9,394.6"/>
<polyline points="386.1,205.9 377.7,216.6 371.0,225.5 367.0,231.0" fill="none" stroke="#000" stroke-width="4.8" stroke-dasharray="1.1 2.7"/>
<ellipse cx="459.0" cy="130.6" rx="5.0" ry="2.4" transform="rotate(-20 459.0 130.6)" fill="#000"/>
<ellipse cx="502.5" cy="117.0" rx="3.6" ry="2.4" transform="rotate(-15 502.5 117.0)" fill="#000"/>
<ellipse cx="404.4" cy="174.4" rx="2.4" ry="5.0" transform="rotate(15 404.4 174.4)" fill="#000"/>
<ellipse cx="393.4" cy="196.7" rx="2.8" ry="3.2" transform="rotate(0 393.4 196.7)" fill="#000"/>
<ellipse cx="156.5" cy="357.6" rx="5.0" ry="2.2" transform="rotate(-22 156.5 357.6)" fill="#000"/>
<ellipse cx="136.1" cy="366.4" rx="2.6" ry="2.6" transform="rotate(0 136.1 366.4)" fill="#000"/>
<ellipse cx="109.5" cy="379.1" rx="2.6" ry="3.0" transform="rotate(0 109.5 379.1)" fill="#000"/>
<ellipse cx="77.3" cy="383.8" rx="3.0" ry="2.6" transform="rotate(0 77.3 383.8)" fill="#000"/>
<polyline class="ou" points="171.0,351.6 165.4,340.9 171.0,335.4 155.9,323.6 149.9,325.4 137.7,336.5 127.7,330.9 126.6,336.5 113.9,336.9 115.9,320.3 98.1,314.3 95.5,306.5 98.1,295.4 95.5,294.3 98.8,294.3 107.7,278.8 114.8,274.3 114.4,269.4 122.8,268.8 134.8,257.2 171.6,262.1 179.2,244.3 172.5,219.9 167.2,212.8 157.6,213.7 158.8,215.5 151.7,221.7 139.9,218.8 118.8,220.6 117.7,211.7 125.0,201.5 122.1,197.7 127.7,189.9 129.5,185.5 131.0,179.1 167.6,174.4 176.5,167.1 173.2,162.0 178.3,151.6 174.3,146.5 179.9,142.7 177.2,134.7 172.1,139.1 165.4,130.9 161.6,120.3 157.0,117.6 153.9,112.1 161.6,109.4 165.4,98.1 169.4,98.1 183.2,93.8 185.4,91.6 191.0,93.0 198.3,81.6 200.9,88.7 203.6,91.0 208.7,118.7 212.5,122.0 214.3,133.8 217.6,134.7 219.8,138.7 217.6,145.4 224.3,143.8 230.9,137.6 237.6,139.1 243.1,133.1 249.8,120.9 253.8,117.6 258.9,102.7 255.6,92.7 264.9,85.4 266.7,94.3 274.4,98.7 284.4,93.6 298.9,97.6 303.3,92.1 301.1,83.2 314.4,77.0 311.5,71.0 318.8,69.9 319.5,72.8 323.9,73.2 335.5,85.4 342.2,88.7 348.4,89.9 352.1,83.6 362.1,89.2 371.7,103.8 374.3,101.6 389.9,109.8 391.0,113.2 403.2,113.8 407.6,116.9 414.3,113.2 421.0,101.0 423.9,100.5 443.2,123.2 446.9,132.5"/>
<polygon points="359.3,229.6 362.6,232.1 364.5,239.1 363.7,247.2 361.6,254.5 359.3,255.2 357.6,253.6 352.9,254.5 349.8,253.6 347.7,251.9 351.2,249.6 352.9,239.1 355.8,232.7" fill="#000"/>
<polygon points="356.1,242.4 358.4,243.2 358.0,244.5 355.7,243.6" fill="#fff"/>
<polygon points="353.3,248.8 355.1,249.3 354.7,250.5 352.8,249.9" fill="#fff"/>
<polyline points="356.8,254.2 353.1,264.7 350.8,274.0 349.1,283.3 349.5,290.3 350.9,296.7" fill="none" stroke="#000" stroke-width="2.8" stroke-linejoin="round" stroke-linecap="round"/>
<polyline points="352.9,254.2 348.0,267.0 344.4,278.6 340.9,290.3 336.1,299.6 329.1,308.9 323.8,314.5" fill="none" stroke="#000" stroke-width="3.0" stroke-linejoin="round" stroke-linecap="round"/>
<polyline points="350.2,255.4 345.6,269.3 340.7,283.9" fill="none" stroke="#000" stroke-width="1.3" stroke-linejoin="round" stroke-linecap="round"/>
<polyline points="348.0,262.4 343.6,265.3 342.5,264.1 337.8,267.0 334.3,266.4 333.1,267.0 333.8,272.8 332.0,275.7 327.9,277.5 329.1,280.4 331.4,281.2 334.3,276.3 337.8,271.7 344.2,270.5 345.9,272.2" fill="none" stroke="#000" stroke-width="2.6" stroke-linejoin="round" stroke-linecap="round"/>
<polyline points="340.7,283.9 336.6,285.0 336.1,289.1 334.3,290.8 334.9,294.9 332.6,296.1 335.5,297.8 341.9,287.9" fill="none" stroke="#000" stroke-width="2.6" stroke-linejoin="round" stroke-linecap="round"/>
<polyline points="344.8,296.1 346.5,303.6 337.8,315.3 334.9,318.2 330.2,317.9 326.8,315.8 327.3,312.4" fill="none" stroke="#000" stroke-width="2.8" stroke-linejoin="round" stroke-linecap="round"/>
<polyline points="322.7,317.0 323.8,321.7" fill="none" stroke="#000" stroke-width="2.3" stroke-linejoin="round" stroke-linecap="round"/>
<polyline points="333.7,265.8 332.8,269.3" fill="none" stroke="#000" stroke-width="2.3" stroke-linejoin="round" stroke-linecap="round"/>
</g>
<rect class="fr" x="0" y="0" width="506.3" height="394.1"/>
<path class="tk" d="M19.1 394.1v11M84.4 394.1v11M149.7 394.1v11M215.0 394.1v11M280.3 394.1v11M345.6 394.1v11M410.9 394.1v11M476.2 394.1v11M0 18.4h-11M0 105.5h-11M0 192.6h-11M0 279.7h-11M0 366.8h-11"/>
<text class="d" x="12.0" y="35.0" font-size="37">c)</text>
</g>
<g transform="translate(262.2,505.6)">
<g clip-path="url(#cp)">
<polygon points="184.9,46.7 186.7,44.9 188.5,46.7 186.7,48.5" fill="#d9f0f7"/>
<polygon points="223.3,37.1 233.3,46.7 223.3,47.1" fill="#f0ee9c"/>
<polygon points="261.1,44.9 262.2,43.1 263.3,44.9 262.2,46.7" fill="#d9f0f7"/>
<polygon points="345.7,66.0 347.0,64.7 348.3,66.0 347.0,67.3" fill="#d9f0f7"/>
<polygon points="336.1,74.9 337.0,74.0 337.9,74.9 337.0,75.8" fill="#f0ee9c"/>
<polygon points="446.0,65.6 446.9,64.7 447.8,65.6 446.9,66.4" fill="#f0ee9c"/>
<polygon points="335.4,92.6 344.3,82.7 353.2,77.1 362.1,83.8 371.0,92.6 362.1,99.3 353.2,102.6 343.2,99.3" fill="#d9f0f7"/>
<polygon points="338.8,92.6 346.5,88.2 359.9,88.9 363.2,93.8 355.4,100.0 344.3,97.7" fill="#a9e3f4"/>
<polygon points="344.3,92.6 353.2,89.8 360.3,92.0 356.5,96.4 348.8,96.0" fill="#6aaad9"/>
<polygon points="379.8,101.5 385.4,96.6 390.9,103.7 385.4,106.6" fill="#d9f0f7"/>
<polygon points="358.1,111.5 361.0,103.7 366.5,101.1 371.6,106.0 371.0,112.6 362.1,113.7" fill="#f0ee9c"/>
<polygon points="305.5,122.6 315.5,116.0 323.2,102.6 328.8,94.9 335.9,103.7 328.8,113.7 322.1,121.5 317.7,128.2" fill="#f0ee9c"/>
<polygon points="293.7,112.6 308.8,103.7 316.6,110.4 311.0,120.0 298.8,119.3" fill="#d9f0f7"/>
<polygon points="302.1,112.0 308.8,107.1 313.7,111.5 308.8,117.1" fill="#a9e3f4"/>
<polygon points="307.0,111.5 308.8,109.7 310.6,111.5 308.8,113.3" fill="#6aaad9"/>
<polygon points="274.8,111.1 281.5,104.4 288.1,111.1 281.5,117.7" fill="#d9f0f7"/>
<polygon points="278.4,111.1 281.5,108.0 284.6,111.1 281.5,114.2" fill="#a9e3f4"/>
<polygon points="274.8,121.5 285.5,120.0 287.3,123.3 281.0,129.7" fill="#f0ee9c"/>
<polygon points="325.4,121.5 329.9,118.8 332.8,122.6 329.4,126.4" fill="#d9f0f7"/>
<polygon points="358.1,122.6 365.4,117.7 372.7,122.6 371.6,131.5 364.3,133.7 358.8,129.3" fill="#d9f0f7"/>
<polygon points="339.9,130.4 347.0,123.1 352.1,130.4 348.8,137.7" fill="#d9f0f7"/>
<polygon points="329.4,148.1 336.5,137.0 342.1,142.6 342.5,152.6 337.7,157.7" fill="#d9f0f7"/>
<polygon points="334.8,149.3 337.0,147.0 339.2,149.3 337.0,151.5" fill="#a9e3f4"/>
<polygon points="344.3,151.5 347.6,142.6 355.4,133.3 373.2,131.9 382.1,140.4 376.5,148.8 363.2,148.8 355.4,152.6 363.9,160.4 357.2,167.0 348.8,160.4" fill="#f0ee9c"/>
<polygon points="357.2,140.8 364.3,135.9 375.4,135.9 380.3,140.8 375.4,145.9 364.3,145.9" fill="#edb043"/>
<polygon points="359.9,140.8 365.4,137.7 375.0,137.7 378.1,140.8 374.3,144.2 365.4,144.2" fill="#ec6c2e"/>
<polygon points="364.3,140.8 366.5,139.3 374.3,139.7 375.4,141.3 373.2,142.6 366.1,142.6" fill="#d92b2c"/>
<polygon points="352.8,159.9 356.5,156.1 360.3,159.9 356.5,163.7" fill="#edb043"/>
<polygon points="385.6,140.8 393.6,132.8 401.6,140.8 393.6,148.8" fill="#f0ee9c"/>
<polygon points="388.7,140.8 393.6,135.9 398.5,140.8 393.6,145.7" fill="#edb043"/>
<polygon points="391.4,140.8 393.6,138.6 395.8,140.8 393.6,143.0" fill="#ec6c2e"/>
<polygon points="404.7,134.8 409.8,125.9 417.6,123.7 426.5,125.9 430.9,133.7 428.7,143.7 418.7,149.3 409.8,144.8" fill="#f0ee9c"/>
<polygon points="410.5,133.7 414.3,128.8 422.0,128.2 426.9,133.7 426.5,141.5 419.8,144.8 413.1,140.4" fill="#edb043"/>
<polygon points="420.7,139.9 422.0,137.9 423.4,139.9 422.0,141.9" fill="#ec6c2e"/>
<polygon points="401.6,159.9 413.1,151.5 418.7,160.4 413.1,165.9" fill="#f0ee9c"/>
<polygon points="245.1,130.4 253.3,122.2 261.5,130.4 253.3,138.6" fill="#d9f0f7"/>
<polygon points="248.8,130.4 253.3,125.9 257.7,130.4 253.3,134.8" fill="#a9e3f4"/>
<polygon points="252.2,130.4 253.3,129.3 254.4,130.4 253.3,131.5" fill="#6aaad9"/>
<polygon points="240.6,142.6 243.3,135.9 251.1,138.6 258.8,140.4 254.4,146.6 244.4,145.5" fill="#f0ee9c"/>
<polygon points="214.0,149.7 224.4,142.6 232.2,149.3 224.4,158.1" fill="#d9f0f7"/>
<polygon points="219.5,149.7 224.4,144.8 229.3,149.7 224.4,154.6" fill="#a9e3f4"/>
<polygon points="223.1,149.7 224.4,148.4 225.8,149.7 224.4,151.0" fill="#6aaad9"/>
<polygon points="199.3,122.2 205.1,116.4 210.9,122.2 205.1,127.9" fill="#d9f0f7"/>
<polygon points="218.2,168.8 224.9,162.1 231.5,168.8 224.9,175.5" fill="#d9f0f7"/>
<polygon points="201.8,159.2 206.0,152.6 209.5,159.2 206.2,163.2" fill="#f0ee9c"/>
<polygon points="188.7,206.2 196.7,198.2 204.7,206.2 196.7,214.2" fill="#f0ee9c"/>
<polygon points="193.3,206.2 196.7,202.8 200.0,206.2 196.7,209.5" fill="#edb043"/>
<polygon points="220.4,211.0 224.4,202.6 230.0,213.3 237.3,215.9 231.1,219.5 223.3,218.8" fill="#d9f0f7"/>
<polygon points="230.0,205.9 235.5,200.4 241.1,205.9 235.5,211.5" fill="#f0ee9c"/>
<polygon points="246.2,215.5 252.8,208.4 259.9,215.9 254.4,225.5 250.0,223.9" fill="#f0ee9c"/>
<polygon points="250.6,215.9 252.8,213.7 255.1,215.9 252.8,218.1" fill="#edb043"/>
<polygon points="265.1,225.5 271.1,219.5 277.0,225.5 271.1,231.5" fill="#d9f0f7"/>
<polygon points="227.8,243.9 234.4,237.2 241.1,243.9 234.4,250.6" fill="#d9f0f7"/>
<polygon points="244.4,243.2 253.3,233.7 258.8,236.6 262.2,244.3 268.4,251.0 270.6,258.8 266.6,266.5 259.9,269.9 253.3,270.5 245.1,262.6 252.2,255.0 248.8,251.0" fill="#d9f0f7"/>
<polygon points="248.8,243.9 253.3,239.5 257.7,243.9 253.3,248.3" fill="#a9e3f4"/>
<polygon points="257.3,253.7 262.2,248.8 267.1,253.7 262.2,258.6" fill="#a9e3f4"/>
<polygon points="250.4,262.6 254.4,259.4 258.4,262.6 254.4,265.7" fill="#a9e3f4"/>
<polygon points="280.4,244.3 281.5,243.2 282.6,244.3 281.5,245.5" fill="#f0ee9c"/>
<polygon points="242.9,253.2 243.7,252.3 244.6,253.2 243.7,254.1" fill="#f0ee9c"/>
<polygon points="299.5,253.2 300.4,252.3 301.2,253.2 300.4,254.1" fill="#f0ee9c"/>
<polygon points="336.3,234.4 337.2,233.5 338.1,234.4 337.2,235.2" fill="#d9f0f7"/>
<polygon points="282.8,271.7 289.9,265.0 299.9,265.0 306.1,271.0 301.0,277.2 291.0,279.4 285.5,275.9" fill="#f0ee9c"/>
<polygon points="288.4,271.7 292.1,269.4 295.5,271.4 293.3,274.3 289.5,273.9" fill="#edb043"/>
<polygon points="274.4,281.4 281.0,274.8 287.7,281.4 281.0,288.1" fill="#d9f0f7"/>
<polygon points="279.5,281.4 280.6,280.3 281.7,281.4 280.6,282.5" fill="#a9e3f4"/>
<polygon points="292.6,290.5 300.4,282.8 308.1,290.5 300.4,298.3" fill="#d9f0f7"/>
<polygon points="296.6,290.5 300.4,286.8 304.1,290.5 300.4,294.3" fill="#a9e3f4"/>
<polygon points="208.2,281.4 215.5,274.1 222.9,281.4 215.5,288.8" fill="#d9f0f7"/>
<polygon points="212.0,281.4 215.5,277.9 219.1,281.4 215.5,285.0" fill="#a9e3f4"/>
<polygon points="251.5,282.1 252.8,278.8 254.2,282.1" fill="#f0ee9c"/>
<polygon points="182.2,291.0 187.8,285.4 193.3,291.0 187.8,296.5" fill="#f0ee9c"/>
<polygon points="230.2,291.0 234.4,286.8 238.6,291.0 234.4,295.2" fill="#f0ee9c"/>
<polygon points="210.0,300.3 214.9,294.7 219.8,300.3 214.9,305.8" fill="#f0ee9c"/>
<polygon points="270.6,299.4 278.8,298.7 286.6,299.4 279.9,302.1 272.2,301.4" fill="#d9f0f7"/>
<polygon points="180.0,309.4 187.3,302.1 194.7,309.4 187.3,316.7" fill="#d9f0f7"/>
<polygon points="183.6,309.4 187.3,305.6 191.1,309.4 187.3,313.2" fill="#a9e3f4"/>
<polygon points="208.7,318.7 216.0,311.4 223.3,318.7 216.0,326.1" fill="#d9f0f7"/>
<polygon points="212.0,318.7 216.0,314.7 220.0,318.7 216.0,322.7" fill="#a9e3f4"/>
<polygon points="244.6,318.7 252.8,310.5 261.1,318.7 252.8,326.9" fill="#d9f0f7"/>
<polygon points="249.7,318.7 252.8,315.6 256.0,318.7 252.8,321.8" fill="#a9e3f4"/>
<polygon points="178.9,337.6 187.8,329.8 191.1,317.6 196.7,312.7 205.6,313.2 207.8,320.9 211.1,328.7 204.4,334.3 196.7,335.4 187.8,346.0" fill="#f0ee9c"/>
<polygon points="183.4,337.6 187.1,333.8 190.9,337.6 187.1,341.4" fill="#edb043"/>
<polygon points="217.8,347.6 224.4,334.9 231.1,346.5 224.4,354.2" fill="#d9f0f7"/>
<polygon points="223.1,346.5 224.9,344.7 226.6,346.5 224.9,348.3" fill="#a9e3f4"/>
<polygon points="171.5,112.6 178.1,105.9 184.8,112.6 178.1,119.3" fill="#d9f0f7"/>
<polygon points="174.3,131.0 179.9,126.6 188.8,126.1 193.2,131.0 187.7,135.9 178.8,136.6" fill="#f0ee9c"/>
<polygon points="151.7,197.0 158.8,189.9 165.9,197.0 158.8,204.1" fill="#f0ee9c"/>
<polygon points="157.9,197.0 158.8,196.1 159.7,197.0 158.8,197.9" fill="#edb043"/>
<polygon points="163.9,205.8 168.8,201.0 173.7,205.8 168.8,210.7" fill="#d9f0f7"/>
<polygon points="156.8,281.6 159.9,278.4 163.0,281.6 159.9,284.7" fill="#d9f0f7"/>
<polygon points="446.2,65.5 448.8,64.1 451.7,65.5 448.8,67.0" fill="#f0ee9c"/>
<polygon points="501.7,84.3 505.5,82.1 505.5,86.6" fill="#f0ee9c"/>
<polygon points="484.4,103.7 488.1,99.9 491.5,103.7 487.7,107.7" fill="#f0ee9c"/>
<polygon points="464.8,113.2 469.3,107.2 473.9,113.2 468.8,120.5" fill="#f0ee9c"/>
<polygon points="474.8,121.0 478.8,117.0 482.2,122.1 478.2,127.2" fill="#d9f0f7"/>
<polygon points="4.7,393.7 9.7,389.7 14.8,395.2" fill="#f0ee9c"/>
<polyline class="co" points="507.8,114.9 497.6,118.3 473.1,125.4 459.8,130.3 446.5,133.8 433.2,142.0 423.2,149.8 413.2,160.9 405.4,174.2 399.9,187.5 401.0,185.5 396.5,195.5 393.2,198.4 385.4,206.6 377.7,216.6 371.0,225.5 365.5,233.2 363.9,241.0 361.7,249.9 359.5,253.2"/>
<polyline class="co" points="323.8,314.5 320.9,315.6 317.5,317.0 319.9,316.5 311.1,319.8 293.3,329.8 273.3,338.7 251.1,345.8 237.8,349.1 232.0,349.8 220.9,351.6 171.0,352.0 163.2,353.6 152.1,358.2 141.0,362.5 134.3,366.5 125.5,368.7 113.2,374.2 108.8,379.8 103.3,381.3 94.4,382.0 81.1,380.9 76.6,383.1 69.9,381.3 61.1,384.2 52.2,389.3 47.7,393.8 38.9,394.6"/>
<polyline points="386.1,205.9 377.7,216.6 371.0,225.5 367.0,231.0" fill="none" stroke="#000" stroke-width="4.8" stroke-dasharray="1.1 2.7"/>
<ellipse cx="459.0" cy="130.6" rx="5.0" ry="2.4" transform="rotate(-20 459.0 130.6)" fill="#000"/>
<ellipse cx="502.5" cy="117.0" rx="3.6" ry="2.4" transform="rotate(-15 502.5 117.0)" fill="#000"/>
<ellipse cx="404.4" cy="174.4" rx="2.4" ry="5.0" transform="rotate(15 404.4 174.4)" fill="#000"/>
<ellipse cx="393.4" cy="196.7" rx="2.8" ry="3.2" transform="rotate(0 393.4 196.7)" fill="#000"/>
<ellipse cx="156.5" cy="357.6" rx="5.0" ry="2.2" transform="rotate(-22 156.5 357.6)" fill="#000"/>
<ellipse cx="136.1" cy="366.4" rx="2.6" ry="2.6" transform="rotate(0 136.1 366.4)" fill="#000"/>
<ellipse cx="109.5" cy="379.1" rx="2.6" ry="3.0" transform="rotate(0 109.5 379.1)" fill="#000"/>
<ellipse cx="77.3" cy="383.8" rx="3.0" ry="2.6" transform="rotate(0 77.3 383.8)" fill="#000"/>
<polyline class="ou" points="171.0,351.6 165.4,340.9 171.0,335.4 155.9,323.6 149.9,325.4 137.7,336.5 127.7,330.9 126.6,336.5 113.9,336.9 115.9,320.3 98.1,314.3 95.5,306.5 98.1,295.4 95.5,294.3 98.8,294.3 107.7,278.8 114.8,274.3 114.4,269.4 122.8,268.8 134.8,257.2 171.6,262.1 179.2,244.3 172.5,219.9 167.2,212.8 157.6,213.7 158.8,215.5 151.7,221.7 139.9,218.8 118.8,220.6 117.7,211.7 125.0,201.5 122.1,197.7 127.7,189.9 129.5,185.5 131.0,179.1 167.6,174.4 176.5,167.1 173.2,162.0 178.3,151.6 174.3,146.5 179.9,142.7 177.2,134.7 172.1,139.1 165.4,130.9 161.6,120.3 157.0,117.6 153.9,112.1 161.6,109.4 165.4,98.1 169.4,98.1 183.2,93.8 185.4,91.6 191.0,93.0 198.3,81.6 200.9,88.7 203.6,91.0 208.7,118.7 212.5,122.0 214.3,133.8 217.6,134.7 219.8,138.7 217.6,145.4 224.3,143.8 230.9,137.6 237.6,139.1 243.1,133.1 249.8,120.9 253.8,117.6 258.9,102.7 255.6,92.7 264.9,85.4 266.7,94.3 274.4,98.7 284.4,93.6 298.9,97.6 303.3,92.1 301.1,83.2 314.4,77.0 311.5,71.0 318.8,69.9 319.5,72.8 323.9,73.2 335.5,85.4 342.2,88.7 348.4,89.9 352.1,83.6 362.1,89.2 371.7,103.8 374.3,101.6 389.9,109.8 391.0,113.2 403.2,113.8 407.6,116.9 414.3,113.2 421.0,101.0 423.9,100.5 443.2,123.2 446.9,132.5"/>
<polygon points="359.3,229.6 362.6,232.1 364.5,239.1 363.7,247.2 361.6,254.5 359.3,255.2 357.6,253.6 352.9,254.5 349.8,253.6 347.7,251.9 351.2,249.6 352.9,239.1 355.8,232.7" fill="#000"/>
<polygon points="356.1,242.4 358.4,243.2 358.0,244.5 355.7,243.6" fill="#fff"/>
<polygon points="353.3,248.8 355.1,249.3 354.7,250.5 352.8,249.9" fill="#fff"/>
<polyline points="356.8,254.2 353.1,264.7 350.8,274.0 349.1,283.3 349.5,290.3 350.9,296.7" fill="none" stroke="#000" stroke-width="2.8" stroke-linejoin="round" stroke-linecap="round"/>
<polyline points="352.9,254.2 348.0,267.0 344.4,278.6 340.9,290.3 336.1,299.6 329.1,308.9 323.8,314.5" fill="none" stroke="#000" stroke-width="3.0" stroke-linejoin="round" stroke-linecap="round"/>
<polyline points="350.2,255.4 345.6,269.3 340.7,283.9" fill="none" stroke="#000" stroke-width="1.3" stroke-linejoin="round" stroke-linecap="round"/>
<polyline points="348.0,262.4 343.6,265.3 342.5,264.1 337.8,267.0 334.3,266.4 333.1,267.0 333.8,272.8 332.0,275.7 327.9,277.5 329.1,280.4 331.4,281.2 334.3,276.3 337.8,271.7 344.2,270.5 345.9,272.2" fill="none" stroke="#000" stroke-width="2.6" stroke-linejoin="round" stroke-linecap="round"/>
<polyline points="340.7,283.9 336.6,285.0 336.1,289.1 334.3,290.8 334.9,294.9 332.6,296.1 335.5,297.8 341.9,287.9" fill="none" stroke="#000" stroke-width="2.6" stroke-linejoin="round" stroke-linecap="round"/>
<polyline points="344.8,296.1 346.5,303.6 337.8,315.3 334.9,318.2 330.2,317.9 326.8,315.8 327.3,312.4" fill="none" stroke="#000" stroke-width="2.8" stroke-linejoin="round" stroke-linecap="round"/>
<polyline points="322.7,317.0 323.8,321.7" fill="none" stroke="#000" stroke-width="2.3" stroke-linejoin="round" stroke-linecap="round"/>
<polyline points="333.7,265.8 332.8,269.3" fill="none" stroke="#000" stroke-width="2.3" stroke-linejoin="round" stroke-linecap="round"/>
</g>
<rect class="fr" x="0" y="0" width="506.3" height="394.1"/>
<path class="tk" d="M19.1 394.1v11M84.4 394.1v11M149.7 394.1v11M215.0 394.1v11M280.3 394.1v11M345.6 394.1v11M410.9 394.1v11M476.2 394.1v11M0 18.4h-11M0 105.5h-11M0 192.6h-11M0 279.7h-11M0 366.8h-11"/>
<text class="d" x="9.6" y="40.5" font-size="37">d)</text>
<text class="t" x="-25" y="26.6" text-anchor="end">41°35'N</text>
<text class="t" x="-25" y="113.7" text-anchor="end">41°30'N</text>
<text class="t" x="-25" y="200.8" text-anchor="end">41°25'N</text>
<text class="t" x="-25" y="287.9" text-anchor="end">41°20'N</text>
<text class="t" x="-25" y="375.0" text-anchor="end">41°15'N</text>
<text class="t" x="84.9" y="438.3" text-anchor="middle">1°50'E</text>
<text class="t" x="215.5" y="438.3" text-anchor="middle">2°E</text>
<text class="t" x="346.1" y="438.3" text-anchor="middle">2°10'E</text>
<text class="t" x="476.7" y="438.3" text-anchor="middle">2°20'E</text>
</g>
<g transform="translate(805.3,505.6)">
<g clip-path="url(#cp)">
<polygon points="184.0,46.5 186.9,42.9 189.8,46.5 186.9,50.0" fill="#d9f0f7"/>
<polygon points="222.4,37.1 232.4,46.7 222.4,47.6" fill="#f0ee9c"/>
<polygon points="261.3,44.2 262.4,41.1 263.5,44.2 262.4,47.3" fill="#d9f0f7"/>
<polygon points="170.2,103.3 178.0,96.2 185.8,103.3 178.0,110.4" fill="#f0ee9c"/>
<polygon points="174.2,103.3 178.0,99.5 181.8,103.3 178.0,107.1" fill="#edb043"/>
<polygon points="166.4,129.3 174.7,127.1 184.0,131.5 176.9,134.8 171.3,135.9" fill="#f0ee9c"/>
<polygon points="198.6,140.4 205.7,136.4 212.0,140.4 205.7,144.4" fill="#d9f0f7"/>
<polygon points="201.8,152.6 205.7,148.1 211.3,152.6 212.9,159.2 206.9,164.8 202.4,160.4" fill="#f0ee9c"/>
<polygon points="195.1,159.7 196.2,158.6 197.3,159.7 196.2,160.8" fill="#d9f0f7"/>
<polygon points="216.4,164.8 218.6,149.3 223.5,144.8 232.4,140.4 243.5,135.9 250.2,144.8 256.8,150.4 253.5,154.1 243.5,147.0 233.5,145.9 232.4,167.0 224.6,177.7 218.0,170.4" fill="#f0ee9c"/>
<polygon points="224.0,149.7 225.7,148.1 225.3,154.1" fill="#edb043"/>
<polygon points="222.4,167.0 224.6,162.1 226.8,167.0 224.6,171.9" fill="#edb043"/>
<polygon points="245.7,132.6 253.5,121.9 261.7,132.6 261.3,138.2 253.9,144.8 247.9,139.3" fill="#d9f0f7"/>
<polygon points="249.5,131.5 253.5,125.9 257.5,131.5 253.9,138.6" fill="#a9e3f4"/>
<polygon points="252.4,131.5 253.0,129.3 253.7,131.5 253.0,133.7" fill="#6aaad9"/>
<polygon points="285.7,92.0 291.2,87.1 297.9,93.8 291.2,94.9" fill="#d9f0f7"/>
<polygon points="283.9,103.3 290.8,101.1 297.9,103.3 290.8,105.5" fill="#f0ee9c"/>
<polygon points="283.9,112.6 290.1,108.2 300.1,108.2 303.4,100.4 310.1,95.5 317.9,103.7 315.7,112.6 307.9,116.0 300.1,113.7 291.2,119.3" fill="#d9f0f7"/>
<polygon points="307.4,103.7 310.1,101.1 311.2,107.1 309.0,113.7 307.4,110.4" fill="#a9e3f4"/>
<polygon points="288.1,112.6 291.2,110.4 294.3,112.6 291.2,114.8" fill="#a9e3f4"/>
<polygon points="294.6,121.9 303.4,118.2 316.8,116.0 321.2,111.5 325.2,121.5 319.0,128.2 310.1,130.4 300.1,127.5" fill="#f0ee9c"/>
<polygon points="304.5,122.6 310.1,120.0 316.8,122.6 311.2,125.3" fill="#edb043"/>
<polygon points="320.1,110.4 323.4,102.6 323.0,92.6 329.0,89.8 335.6,96.0 339.0,104.9 349.0,108.2 353.4,116.0 353.4,122.6 358.9,124.8 365.6,123.3 372.3,128.2 374.5,135.9 373.4,141.5 365.6,148.1 356.7,141.5 351.2,131.5 343.4,122.6 339.0,109.3 332.3,106.0 324.5,112.6" fill="#f0ee9c"/>
<polygon points="358.9,131.5 365.2,127.1 371.2,131.5 370.5,141.5 365.6,144.8 360.1,140.4" fill="#edb043"/>
<polygon points="364.7,134.8 365.2,131.5 365.6,134.8 365.2,138.2" fill="#ec6c2e"/>
<polygon points="359.4,121.5 365.6,112.2 372.3,121.5 365.6,123.7" fill="#d9f0f7"/>
<polygon points="360.1,92.6 365.6,89.3 371.2,93.8 366.7,100.4" fill="#d9f0f7"/>
<polygon points="378.9,100.4 385.1,96.4 390.7,102.6 384.5,106.0" fill="#d9f0f7"/>
<polygon points="282.6,140.4 290.8,132.2 299.0,140.4 290.8,148.6" fill="#f0ee9c"/>
<polygon points="285.5,140.4 290.8,135.0 296.1,140.4 290.8,145.7" fill="#edb043"/>
<polygon points="289.9,140.4 290.8,139.5 291.7,140.4 290.8,141.3" fill="#ec6c2e"/>
<polygon points="339.0,149.7 346.3,142.4 353.6,149.7 346.3,157.0" fill="#f0ee9c"/>
<polygon points="202.4,185.9 205.7,183.7 214.6,191.4 222.4,182.6 232.4,178.6 241.3,184.8 251.3,197.0 250.2,202.5 208.0,202.5" fill="#f0ee9c"/>
<polygon points="223.1,187.0 228.0,182.6 235.7,183.7 241.3,189.2 247.9,199.4 232.4,199.4 230.2,193.7 223.5,191.4" fill="#edb043"/>
<polygon points="231.9,187.0 233.5,186.1 235.1,187.0 233.5,187.9" fill="#ec6c2e"/>
<polygon points="202.4,185.5 205.7,184.4 214.6,191.1 222.4,184.4 241.3,184.4 251.3,196.6 234.6,213.3 223.5,202.2 212.4,201.1 205.7,193.3" fill="#f0ee9c"/>
<polygon points="223.1,186.6 228.0,184.4 235.7,184.4 241.3,188.8 247.9,196.6 244.6,200.4 235.7,193.3 230.2,192.8 224.6,191.1" fill="#edb043"/>
<polygon points="233.1,197.3 234.6,196.2 236.2,197.3 234.6,198.4" fill="#ffffff"/>
<polygon points="230.6,187.1 232.4,186.0 234.2,187.1 232.4,188.2" fill="#ec6c2e"/>
<polygon points="273.5,196.6 281.2,188.8 289.0,196.6 281.2,204.4" fill="#d9f0f7"/>
<polygon points="277.2,196.6 281.2,192.6 285.2,196.6 281.2,200.6" fill="#a9e3f4"/>
<polygon points="164.7,205.9 168.7,202.8 172.7,205.9 168.7,209.0" fill="#d9f0f7"/>
<polygon points="170.9,215.5 178.0,208.4 185.1,215.5 178.0,222.6" fill="#f0ee9c"/>
<polygon points="208.2,215.5 215.3,208.4 222.4,215.5 215.3,222.6" fill="#f0ee9c"/>
<polygon points="245.3,215.5 252.4,208.4 260.1,215.5 265.7,215.5 271.2,208.8 287.9,225.5 280.1,232.1 272.4,223.3 262.4,231.0 250.2,223.3" fill="#f0ee9c"/>
<polygon points="249.7,215.5 252.8,212.4 255.9,215.5 252.8,218.6" fill="#edb043"/>
<polygon points="271.2,215.0 273.0,214.2 281.2,223.9 279.5,224.8" fill="#edb043"/>
<polygon points="298.1,215.5 300.1,213.5 302.1,215.5 300.1,217.5" fill="#d9f0f7"/>
<polygon points="250.6,235.5 253.0,233.0 255.5,235.5 253.0,237.9" fill="#d9f0f7"/>
<polygon points="277.2,243.9 281.2,239.9 285.2,243.9 281.2,247.9" fill="#f0ee9c"/>
<polygon points="180.7,252.8 186.9,245.5 198.0,244.8 204.6,252.8 198.0,260.3 186.9,260.3" fill="#f0ee9c"/>
<polygon points="178.7,284.3 186.9,273.2 201.3,269.9 212.4,257.7 225.3,244.8 233.5,253.2 224.6,266.5 223.5,282.1 214.6,290.5 203.5,291.0 196.9,298.7 186.9,299.4 180.2,292.1" fill="#f0ee9c"/>
<polygon points="181.3,284.3 188.0,275.4 202.4,272.1 213.5,259.9 225.3,248.3 230.6,253.2 222.4,265.4 221.3,279.9 213.5,283.2 205.7,282.1 199.1,293.2 188.0,296.5 182.4,291.0" fill="#edb043"/>
<polygon points="183.1,285.4 189.1,277.7 200.2,277.2 203.5,281.0 194.6,293.2 188.0,294.7 184.0,291.0" fill="#ec6c2e"/>
<polygon points="215.1,259.9 224.6,250.6 228.0,253.7 218.0,263.2" fill="#ec6c2e"/>
<polygon points="186.2,287.6 194.6,279.9 200.2,280.3 191.3,291.6 187.5,292.1" fill="#d92b2c"/>
<polygon points="142.9,288.3 149.8,278.8 156.9,288.3 149.8,298.1" fill="#f0ee9c"/>
<polygon points="158.5,281.4 159.6,280.3 160.7,281.4 159.6,282.5" fill="#d9f0f7"/>
<polygon points="225.7,282.1 234.2,273.2 242.4,282.1 241.3,291.0 234.6,298.1 228.0,291.0" fill="#f0ee9c"/>
<polygon points="229.1,282.1 234.2,276.1 239.1,282.1 234.6,292.1" fill="#edb043"/>
<polygon points="231.9,282.1 234.2,279.4 236.4,282.1 234.2,285.4" fill="#ec6c2e"/>
<polygon points="208.0,299.4 215.1,292.3 222.2,299.4 215.1,306.5" fill="#f0ee9c"/>
<polygon points="180.0,308.3 187.3,302.1 194.6,308.3 187.3,314.5" fill="#d9f0f7"/>
<polygon points="184.0,308.3 187.3,305.0 190.7,308.3 187.3,311.6" fill="#a9e3f4"/>
<polygon points="179.1,319.2 187.3,313.8 195.3,319.2 187.3,326.5" fill="#f0ee9c"/>
<polygon points="183.5,319.4 187.3,315.6 191.1,319.4 187.3,323.2" fill="#edb043"/>
<polygon points="207.1,318.7 215.3,310.5 223.5,318.7 215.3,326.9" fill="#d9f0f7"/>
<polygon points="210.9,318.7 215.3,314.3 219.7,318.7 215.3,323.2" fill="#a9e3f4"/>
<polygon points="199.1,328.7 205.7,322.1 212.4,328.7 205.7,335.4" fill="#f0ee9c"/>
<polygon points="249.5,310.3 253.5,306.3 257.5,310.3 253.5,314.3" fill="#f0ee9c"/>
<polygon points="258.6,262.1 263.0,259.9 266.8,263.2 262.4,264.3" fill="#f0ee9c"/>
<polygon points="286.3,262.1 290.1,258.8 294.1,263.2" fill="#d9f0f7"/>
<polygon points="281.9,273.2 289.0,267.0 299.0,264.8 306.8,272.1 300.1,278.8 290.1,280.3" fill="#f0ee9c"/>
<polygon points="286.3,273.2 291.2,269.9 297.9,271.0 295.7,275.0 289.0,275.9" fill="#edb043"/>
<polygon points="274.8,281.4 280.8,275.4 286.8,281.4 280.8,287.4" fill="#d9f0f7"/>
<polygon points="299.4,253.2 300.1,252.6 300.8,253.2 300.1,253.9" fill="#f0ee9c"/>
<polygon points="273.9,299.4 280.1,292.1 291.2,289.2 290.1,297.6 282.3,307.6" fill="#f0ee9c"/>
<polygon points="280.3,299.9 281.2,298.3 282.1,299.9 281.2,301.4" fill="#edb043"/>
<polygon points="300.8,309.2 306.8,303.2 309.0,294.3 311.2,303.2 317.9,309.2 309.4,317.6" fill="#f0ee9c"/>
<polygon points="303.2,309.2 309.4,303.0 315.7,309.2 309.4,315.4" fill="#edb043"/>
<polygon points="305.0,309.2 309.4,304.7 313.9,309.2 309.4,313.6" fill="#ec6c2e"/>
<polygon points="307.2,309.2 309.4,307.0 311.7,309.2 309.4,311.4" fill="#d92b2c"/>
<polygon points="208.0,347.6 215.7,339.8 220.2,337.6 223.5,329.8 232.4,329.2 240.2,337.6 241.7,347.6 235.7,355.4 216.8,355.4" fill="#f0ee9c"/>
<polygon points="228.0,346.5 233.5,340.9 237.9,343.1 237.9,349.8 230.2,350.5" fill="#edb043"/>
<polygon points="208.6,347.6 215.7,340.9 223.1,347.6 215.7,350.9" fill="#ec6c2e"/>
<polygon points="211.7,347.1 215.7,343.1 219.7,347.1 215.7,351.1" fill="#d92b2c"/>
<polygon points="213.7,347.1 215.7,345.1 217.7,347.1 215.7,349.1" fill="#961b1e"/>
<polygon points="395.3,131.0 402.9,123.2 410.2,129.9 414.7,132.1 429.1,115.4 433.5,114.3 441.3,121.0 438.0,132.1 429.1,142.1 420.2,148.7 414.7,148.7 406.9,141.0" fill="#f0ee9c"/>
<polygon points="398.9,131.0 402.9,127.0 406.9,131.0 402.9,135.0" fill="#edb043"/>
<polygon points="413.5,139.8 426.9,121.0 432.4,117.6 437.5,123.2 435.3,132.1 426.9,141.0 419.1,145.0" fill="#edb043"/>
<polygon points="430.4,122.7 431.3,121.9 432.2,122.7 431.3,123.6" fill="#ec6c2e"/>
<polygon points="420.4,139.2 421.3,137.4 422.2,139.2 421.3,141.0" fill="#ec6c2e"/>
<polygon points="438.4,131.0 441.3,126.5 445.1,132.1 441.3,135.4" fill="#d9f0f7"/>
<polygon points="401.3,159.2 412.4,153.8 410.2,159.8 406.9,162.7" fill="#f0ee9c"/>
<polygon points="446.0,65.5 449.1,64.4 450.8,65.9" fill="#f0ee9c"/>
<polygon points="502.4,85.0 505.7,82.8 505.7,86.6" fill="#f0ee9c"/>
<polygon points="484.6,103.7 487.9,99.9 491.3,103.7 487.9,107.4" fill="#f0ee9c"/>
<polygon points="465.1,113.2 469.5,107.7 474.2,113.2 469.1,120.5" fill="#f0ee9c"/>
<polygon points="475.0,121.0 479.0,116.5 482.4,122.1 478.4,126.5" fill="#d9f0f7"/>
<polygon points="4.0,394.1 8.9,390.7 13.8,396.1" fill="#f0ee9c"/>
<polyline class="co" points="507.8,114.9 497.6,118.3 473.1,125.4 459.8,130.3 446.5,133.8 433.2,142.0 423.2,149.8 413.2,160.9 405.4,174.2 399.9,187.5 401.0,185.5 396.5,195.5 393.2,198.4 385.4,206.6 377.7,216.6 371.0,225.5 365.5,233.2 363.9,241.0 361.7,249.9 359.5,253.2"/>
<polyline class="co" points="323.8,314.5 320.9,315.6 317.5,317.0 319.9,316.5 311.1,319.8 293.3,329.8 273.3,338.7 251.1,345.8 237.8,349.1 232.0,349.8 220.9,351.6 171.0,352.0 163.2,353.6 152.1,358.2 141.0,362.5 134.3,366.5 125.5,368.7 113.2,374.2 108.8,379.8 103.3,381.3 94.4,382.0 81.1,380.9 76.6,383.1 69.9,381.3 61.1,384.2 52.2,389.3 47.7,393.8 38.9,394.6"/>
<polyline points="386.1,205.9 377.7,216.6 371.0,225.5 367.0,231.0" fill="none" stroke="#000" stroke-width="4.8" stroke-dasharray="1.1 2.7"/>
<ellipse cx="459.0" cy="130.6" rx="5.0" ry="2.4" transform="rotate(-20 459.0 130.6)" fill="#000"/>
<ellipse cx="502.5" cy="117.0" rx="3.6" ry="2.4" transform="rotate(-15 502.5 117.0)" fill="#000"/>
<ellipse cx="404.4" cy="174.4" rx="2.4" ry="5.0" transform="rotate(15 404.4 174.4)" fill="#000"/>
<ellipse cx="393.4" cy="196.7" rx="2.8" ry="3.2" transform="rotate(0 393.4 196.7)" fill="#000"/>
<ellipse cx="156.5" cy="357.6" rx="5.0" ry="2.2" transform="rotate(-22 156.5 357.6)" fill="#000"/>
<ellipse cx="136.1" cy="366.4" rx="2.6" ry="2.6" transform="rotate(0 136.1 366.4)" fill="#000"/>
<ellipse cx="109.5" cy="379.1" rx="2.6" ry="3.0" transform="rotate(0 109.5 379.1)" fill="#000"/>
<ellipse cx="77.3" cy="383.8" rx="3.0" ry="2.6" transform="rotate(0 77.3 383.8)" fill="#000"/>
<polyline class="ou" points="171.0,351.6 165.4,340.9 171.0,335.4 155.9,323.6 149.9,325.4 137.7,336.5 127.7,330.9 126.6,336.5 113.9,336.9 115.9,320.3 98.1,314.3 95.5,306.5 98.1,295.4 95.5,294.3 98.8,294.3 107.7,278.8 114.8,274.3 114.4,269.4 122.8,268.8 134.8,257.2 171.6,262.1 179.2,244.3 172.5,219.9 167.2,212.8 157.6,213.7 158.8,215.5 151.7,221.7 139.9,218.8 118.8,220.6 117.7,211.7 125.0,201.5 122.1,197.7 127.7,189.9 129.5,185.5 131.0,179.1 167.6,174.4 176.5,167.1 173.2,162.0 178.3,151.6 174.3,146.5 179.9,142.7 177.2,134.7 172.1,139.1 165.4,130.9 161.6,120.3 157.0,117.6 153.9,112.1 161.6,109.4 165.4,98.1 169.4,98.1 183.2,93.8 185.4,91.6 191.0,93.0 198.3,81.6 200.9,88.7 203.6,91.0 208.7,118.7 212.5,122.0 214.3,133.8 217.6,134.7 219.8,138.7 217.6,145.4 224.3,143.8 230.9,137.6 237.6,139.1 243.1,133.1 249.8,120.9 253.8,117.6 258.9,102.7 255.6,92.7 264.9,85.4 266.7,94.3 274.4,98.7 284.4,93.6 298.9,97.6 303.3,92.1 301.1,83.2 314.4,77.0 311.5,71.0 318.8,69.9 319.5,72.8 323.9,73.2 335.5,85.4 342.2,88.7 348.4,89.9 352.1,83.6 362.1,89.2 371.7,103.8 374.3,101.6 389.9,109.8 391.0,113.2 403.2,113.8 407.6,116.9 414.3,113.2 421.0,101.0 423.9,100.5 443.2,123.2 446.9,132.5"/>
<polygon points="359.3,229.6 362.6,232.1 364.5,239.1 363.7,247.2 361.6,254.5 359.3,255.2 357.6,253.6 352.9,254.5 349.8,253.6 347.7,251.9 351.2,249.6 352.9,239.1 355.8,232.7" fill="#000"/>
<polygon points="356.1,242.4 358.4,243.2 358.0,244.5 355.7,243.6" fill="#fff"/>
<polygon points="353.3,248.8 355.1,249.3 354.7,250.5 352.8,249.9" fill="#fff"/>
<polyline points="356.8,254.2 353.1,264.7 350.8,274.0 349.1,283.3 349.5,290.3 350.9,296.7" fill="none" stroke="#000" stroke-width="2.8" stroke-linejoin="round" stroke-linecap="round"/>
<polyline points="352.9,254.2 348.0,267.0 344.4,278.6 340.9,290.3 336.1,299.6 329.1,308.9 323.8,314.5" fill="none" stroke="#000" stroke-width="3.0" stroke-linejoin="round" stroke-linecap="round"/>
<polyline points="350.2,255.4 345.6,269.3 340.7,283.9" fill="none" stroke="#000" stroke-width="1.3" stroke-linejoin="round" stroke-linecap="round"/>
<polyline points="348.0,262.4 343.6,265.3 342.5,264.1 337.8,267.0 334.3,266.4 333.1,267.0 333.8,272.8 332.0,275.7 327.9,277.5 329.1,280.4 331.4,281.2 334.3,276.3 337.8,271.7 344.2,270.5 345.9,272.2" fill="none" stroke="#000" stroke-width="2.6" stroke-linejoin="round" stroke-linecap="round"/>
<polyline points="340.7,283.9 336.6,285.0 336.1,289.1 334.3,290.8 334.9,294.9 332.6,296.1 335.5,297.8 341.9,287.9" fill="none" stroke="#000" stroke-width="2.6" stroke-linejoin="round" stroke-linecap="round"/>
<polyline points="344.8,296.1 346.5,303.6 337.8,315.3 334.9,318.2 330.2,317.9 326.8,315.8 327.3,312.4" fill="none" stroke="#000" stroke-width="2.8" stroke-linejoin="round" stroke-linecap="round"/>
<polyline points="322.7,317.0 323.8,321.7" fill="none" stroke="#000" stroke-width="2.3" stroke-linejoin="round" stroke-linecap="round"/>
<polyline points="333.7,265.8 332.8,269.3" fill="none" stroke="#000" stroke-width="2.3" stroke-linejoin="round" stroke-linecap="round"/>
</g>
<rect class="fr" x="0" y="0" width="506.3" height="394.1"/>
<path class="tk" d="M19.1 394.1v11M84.4 394.1v11M149.7 394.1v11M215.0 394.1v11M280.3 394.1v11M345.6 394.1v11M410.9 394.1v11M476.2 394.1v11M0 18.4h-11M0 105.5h-11M0 192.6h-11M0 279.7h-11M0 366.8h-11"/>
<text class="d" x="5.4" y="32.9" font-size="37">e)</text>
<text class="t" x="84.9" y="438.3" text-anchor="middle">1°50'E</text>
<text class="t" x="215.5" y="438.3" text-anchor="middle">2°E</text>
<text class="t" x="346.1" y="438.3" text-anchor="middle">2°10'E</text>
<text class="t" x="476.7" y="438.3" text-anchor="middle">2°20'E</text>
</g>
<g transform="translate(1346.6,501.6)">
<g clip-path="url(#cp)">
<polygon points="181.1,142.8 187.4,135.0 193.8,141.6 192.2,148.3 186.7,155.0 182.7,149.4" fill="#f0ee9c"/>
<polygon points="239.3,141.0 244.4,135.6 253.3,135.6 258.2,141.0 253.3,146.7 243.3,146.1" fill="#f0ee9c"/>
<polygon points="254.4,121.7 262.2,114.3 279.9,115.0 285.5,118.3 289.9,126.1 288.8,131.7 281.0,135.6 273.3,127.7 264.4,128.3" fill="#f0ee9c"/>
<polygon points="277.3,122.3 280.4,119.2 283.5,122.3 280.4,125.4" fill="#edb043"/>
<polygon points="286.6,113.4 291.5,110.6 294.4,113.4 290.6,116.6" fill="#d9f0f7"/>
<polygon points="286.2,102.8 293.3,99.5 301.5,103.2 293.7,106.6" fill="#f0ee9c"/>
<polygon points="293.3,84.6 298.8,79.0 303.2,84.6 299.5,90.6" fill="#f0ee9c"/>
<polygon points="303.9,86.1 309.9,81.7 315.0,85.0 308.8,91.7" fill="#f0ee9c"/>
<polygon points="300.4,122.3 308.8,113.9 316.6,111.7 318.8,101.7 326.6,100.6 330.6,103.2 323.2,112.8 326.6,122.3 317.7,129.0 308.8,129.9" fill="#f0ee9c"/>
<polygon points="303.9,122.3 309.9,117.9 317.7,121.7 311.0,126.1" fill="#edb043"/>
<polygon points="342.1,112.8 348.8,107.7 357.6,107.7 362.1,112.8 355.4,118.8 346.5,117.9" fill="#f0ee9c"/>
<polygon points="320.1,169.4 328.3,161.2 336.6,169.4 328.3,177.6" fill="#f0ee9c"/>
<polygon points="323.5,169.4 328.3,164.5 333.2,169.4 328.3,174.3" fill="#edb043"/>
<polygon points="327.2,169.4 328.3,168.3 329.4,169.4 328.3,170.5" fill="#ec6c2e"/>
<polygon points="341.0,169.8 347.7,163.2 354.3,169.8 347.7,176.5" fill="#f0ee9c"/>
<polygon points="321.7,188.3 328.8,182.3 346.5,181.6 349.9,189.4 346.5,197.1 337.7,200.5 329.9,196.0" fill="#f0ee9c"/>
<polygon points="346.5,199.4 355.4,201.6 366.5,197.1 372.7,206.0 365.4,214.9 357.6,212.7 347.7,204.9" fill="#f0ee9c"/>
<polygon points="360.3,224.9 366.1,218.2 368.7,223.8 364.3,230.5" fill="#f0ee9c"/>
<polygon points="208.2,209.4 215.5,199.4 224.0,208.2 222.2,216.0 215.5,222.7 208.9,217.1" fill="#f0ee9c"/>
<polygon points="225.5,206.5 233.8,198.7 242.0,206.5 233.8,214.2" fill="#f0ee9c"/>
<polygon points="232.2,206.5 233.8,204.9 235.3,206.5 233.8,208.0" fill="#edb043"/>
<polygon points="244.0,216.2 252.8,207.3 261.7,215.7 261.1,221.7 271.1,231.7 279.9,236.1 297.7,233.5 309.9,223.5 311.0,226.2 303.2,235.0 311.0,239.5 328.8,232.8 331.0,237.3 334.3,251.7 326.6,260.6 311.0,269.4 308.8,265.0 317.7,253.9 311.0,250.6 293.3,249.9 282.2,260.6 268.8,261.7 259.5,252.8 264.4,247.7 275.5,244.6 266.6,235.0 257.7,227.3 248.9,223.9" fill="#f0ee9c"/>
<polygon points="248.2,216.2 252.6,211.7 257.1,216.2 252.6,220.6" fill="#edb043"/>
<polygon points="278.2,282.8 282.6,273.9 286.6,266.1 297.7,263.2 307.7,269.4 305.5,281.7 315.5,283.9 324.3,289.4 317.7,297.9 309.9,298.3 302.1,289.4 297.7,287.2 289.9,295.0 284.4,289.4" fill="#f0ee9c"/>
<polygon points="286.2,282.8 289.9,280.5 293.7,283.9 290.6,286.1" fill="#ffffff"/>
<polygon points="285.5,270.6 291.5,266.1 301.0,271.7 296.6,276.1 288.8,276.6" fill="#edb043"/>
<polygon points="288.8,271.2 291.5,269.0 293.7,272.8 290.6,274.3" fill="#ec6c2e"/>
<polygon points="309.0,290.5 309.9,289.7 310.8,290.5 309.9,291.4" fill="#edb043"/>
<polygon points="226.7,260.6 233.8,255.7 242.2,265.0 244.4,271.7 254.4,281.7 248.9,286.1 242.2,288.3 234.4,303.9 225.5,291.7 233.3,282.8 240.4,279.4 239.5,271.7 233.3,267.2" fill="#f0ee9c"/>
<polygon points="233.3,262.8 234.4,261.7 235.5,262.8 234.4,263.9" fill="#edb043"/>
<polygon points="230.9,291.2 233.8,288.3 236.6,291.2 233.8,294.1" fill="#edb043"/>
<polygon points="200.5,319.0 206.7,312.7 212.9,319.0 206.7,325.2" fill="#f0ee9c"/>
<polygon points="208.9,328.3 216.7,323.2 226.2,328.3 218.9,334.3" fill="#d9f0f7"/>
<polygon points="170.7,346.0 177.8,339.8 192.2,338.7 197.8,332.7 200.0,337.8 194.5,346.0 188.9,351.6 184.5,354.9 177.8,354.9" fill="#f0ee9c"/>
<polygon points="175.6,345.4 180.0,343.2 187.8,344.9 186.7,349.4 176.7,349.4" fill="#edb043"/>
<polygon points="339.9,251.7 346.1,246.8 349.9,251.7 346.5,258.3" fill="#f0ee9c"/>
<polygon points="356.7,173.8 360.1,162.7 366.7,151.6 375.6,145.0 388.9,144.5 397.8,142.8 404.5,137.2 405.6,129.4 413.8,123.4 424.0,122.3 430.0,127.2 440.4,123.9 446.7,132.8 431.1,145.0 418.9,158.3 410.0,169.4 408.9,180.5 403.4,184.9 396.7,180.5 401.1,171.6 406.7,162.7 402.2,159.4 393.4,161.6 377.8,157.2 372.3,162.7 374.5,171.6 378.9,178.3 373.4,189.4 365.6,197.1 360.1,187.2" fill="#f0ee9c"/>
<polygon points="410.0,132.8 414.5,127.2 422.2,127.2 427.8,132.8 441.1,128.3 443.3,131.7 431.1,141.0 422.2,144.5 415.6,141.6" fill="#edb043"/>
<polygon points="420.0,136.1 423.3,133.9 431.1,137.2 430.0,141.0 423.3,142.3" fill="#ec6c2e"/>
<polygon points="377.4,196.5 386.7,189.4 395.6,182.7 401.1,191.6 397.8,200.5 391.1,204.9 383.4,201.6" fill="#f0ee9c"/>
<polygon points="384.5,196.5 391.1,190.5 400.5,193.4 397.8,200.0 390.0,201.1" fill="#edb043"/>
<polygon points="386.7,196.5 392.3,191.6 397.8,195.6 393.4,200.5" fill="#d92b2c"/>
<polygon points="388.9,196.5 392.3,193.4 395.6,196.5 392.3,199.4" fill="#961b1e"/>
<polyline class="co" points="507.8,114.9 497.6,118.3 473.1,125.4 459.8,130.3 446.5,133.8 433.2,142.0 423.2,149.8 413.2,160.9 405.4,174.2 399.9,187.5 401.0,185.5 396.5,195.5 393.2,198.4 385.4,206.6 377.7,216.6 371.0,225.5 365.5,233.2 363.9,241.0 361.7,249.9 359.5,253.2"/>
<polyline class="co" points="323.8,314.5 320.9,315.6 317.5,317.0 319.9,316.5 311.1,319.8 293.3,329.8 273.3,338.7 251.1,345.8 237.8,349.1 232.0,349.8 220.9,351.6 171.0,352.0 163.2,353.6 152.1,358.2 141.0,362.5 134.3,366.5 125.5,368.7 113.2,374.2 108.8,379.8 103.3,381.3 94.4,382.0 81.1,380.9 76.6,383.1 69.9,381.3 61.1,384.2 52.2,389.3 47.7,393.8 38.9,394.6"/>
<polyline points="386.1,205.9 377.7,216.6 371.0,225.5 367.0,231.0" fill="none" stroke="#000" stroke-width="4.8" stroke-dasharray="1.1 2.7"/>
<ellipse cx="459.0" cy="130.6" rx="5.0" ry="2.4" transform="rotate(-20 459.0 130.6)" fill="#000"/>
<ellipse cx="502.5" cy="117.0" rx="3.6" ry="2.4" transform="rotate(-15 502.5 117.0)" fill="#000"/>
<ellipse cx="404.4" cy="174.4" rx="2.4" ry="5.0" transform="rotate(15 404.4 174.4)" fill="#000"/>
<ellipse cx="393.4" cy="196.7" rx="2.8" ry="3.2" transform="rotate(0 393.4 196.7)" fill="#000"/>
<ellipse cx="156.5" cy="357.6" rx="5.0" ry="2.2" transform="rotate(-22 156.5 357.6)" fill="#000"/>
<ellipse cx="136.1" cy="366.4" rx="2.6" ry="2.6" transform="rotate(0 136.1 366.4)" fill="#000"/>
<ellipse cx="109.5" cy="379.1" rx="2.6" ry="3.0" transform="rotate(0 109.5 379.1)" fill="#000"/>
<ellipse cx="77.3" cy="383.8" rx="3.0" ry="2.6" transform="rotate(0 77.3 383.8)" fill="#000"/>
<polyline class="ou" points="171.0,351.6 165.4,340.9 171.0,335.4 155.9,323.6 149.9,325.4 137.7,336.5 127.7,330.9 126.6,336.5 113.9,336.9 115.9,320.3 98.1,314.3 95.5,306.5 98.1,295.4 95.5,294.3 98.8,294.3 107.7,278.8 114.8,274.3 114.4,269.4 122.8,268.8 134.8,257.2 171.6,262.1 179.2,244.3 172.5,219.9 167.2,212.8 157.6,213.7 158.8,215.5 151.7,221.7 139.9,218.8 118.8,220.6 117.7,211.7 125.0,201.5 122.1,197.7 127.7,189.9 129.5,185.5 131.0,179.1 167.6,174.4 176.5,167.1 173.2,162.0 178.3,151.6 174.3,146.5 179.9,142.7 177.2,134.7 172.1,139.1 165.4,130.9 161.6,120.3 157.0,117.6 153.9,112.1 161.6,109.4 165.4,98.1 169.4,98.1 183.2,93.8 185.4,91.6 191.0,93.0 198.3,81.6 200.9,88.7 203.6,91.0 208.7,118.7 212.5,122.0 214.3,133.8 217.6,134.7 219.8,138.7 217.6,145.4 224.3,143.8 230.9,137.6 237.6,139.1 243.1,133.1 249.8,120.9 253.8,117.6 258.9,102.7 255.6,92.7 264.9,85.4 266.7,94.3 274.4,98.7 284.4,93.6 298.9,97.6 303.3,92.1 301.1,83.2 314.4,77.0 311.5,71.0 318.8,69.9 319.5,72.8 323.9,73.2 335.5,85.4 342.2,88.7 348.4,89.9 352.1,83.6 362.1,89.2 371.7,103.8 374.3,101.6 389.9,109.8 391.0,113.2 403.2,113.8 407.6,116.9 414.3,113.2 421.0,101.0 423.9,100.5 443.2,123.2 446.9,132.5"/>
<polygon points="359.3,229.6 362.6,232.1 364.5,239.1 363.7,247.2 361.6,254.5 359.3,255.2 357.6,253.6 352.9,254.5 349.8,253.6 347.7,251.9 351.2,249.6 352.9,239.1 355.8,232.7" fill="#000"/>
<polygon points="356.1,242.4 358.4,243.2 358.0,244.5 355.7,243.6" fill="#fff"/>
<polygon points="353.3,248.8 355.1,249.3 354.7,250.5 352.8,249.9" fill="#fff"/>
<polyline points="356.8,254.2 353.1,264.7 350.8,274.0 349.1,283.3 349.5,290.3 350.9,296.7" fill="none" stroke="#000" stroke-width="2.8" stroke-linejoin="round" stroke-linecap="round"/>
<polyline points="352.9,254.2 348.0,267.0 344.4,278.6 340.9,290.3 336.1,299.6 329.1,308.9 323.8,314.5" fill="none" stroke="#000" stroke-width="3.0" stroke-linejoin="round" stroke-linecap="round"/>
<polyline points="350.2,255.4 345.6,269.3 340.7,283.9" fill="none" stroke="#000" stroke-width="1.3" stroke-linejoin="round" stroke-linecap="round"/>
<polyline points="348.0,262.4 343.6,265.3 342.5,264.1 337.8,267.0 334.3,266.4 333.1,267.0 333.8,272.8 332.0,275.7 327.9,277.5 329.1,280.4 331.4,281.2 334.3,276.3 337.8,271.7 344.2,270.5 345.9,272.2" fill="none" stroke="#000" stroke-width="2.6" stroke-linejoin="round" stroke-linecap="round"/>
<polyline points="340.7,283.9 336.6,285.0 336.1,289.1 334.3,290.8 334.9,294.9 332.6,296.1 335.5,297.8 341.9,287.9" fill="none" stroke="#000" stroke-width="2.6" stroke-linejoin="round" stroke-linecap="round"/>
<polyline points="344.8,296.1 346.5,303.6 337.8,315.3 334.9,318.2 330.2,317.9 326.8,315.8 327.3,312.4" fill="none" stroke="#000" stroke-width="2.8" stroke-linejoin="round" stroke-linecap="round"/>
<polyline points="322.7,317.0 323.8,321.7" fill="none" stroke="#000" stroke-width="2.3" stroke-linejoin="round" stroke-linecap="round"/>
<polyline points="333.7,265.8 332.8,269.3" fill="none" stroke="#000" stroke-width="2.3" stroke-linejoin="round" stroke-linecap="round"/>
</g>
<rect class="fr" x="0" y="0" width="506.3" height="394.1"/>
<path class="tk" d="M19.1 394.1v11M84.4 394.1v11M149.7 394.1v11M215.0 394.1v11M280.3 394.1v11M345.6 394.1v11M410.9 394.1v11M476.2 394.1v11M0 18.4h-11M0 105.5h-11M0 192.6h-11M0 279.7h-11M0 366.8h-11"/>
<text class="d" x="10.5" y="39.0" font-size="37">f)</text>
<text class="t" x="84.9" y="438.3" text-anchor="middle">1°50'E</text>
<text class="t" x="215.5" y="438.3" text-anchor="middle">2°E</text>
<text class="t" x="346.1" y="438.3" text-anchor="middle">2°10'E</text>
<text class="t" x="476.7" y="438.3" text-anchor="middle">2°20'E</text>
</g>
<text class="d" x="505.2" y="46.4" font-size="60.7" text-anchor="middle">URB-REF</text>
<text class="d" x="1038" y="46.4" font-size="61.4" text-anchor="middle">AGR-REF</text>
<text class="d" x="1563" y="46.4" font-size="61.4" text-anchor="middle">PARKS-REF</text>
<text class="d" x="-5" y="335.3" font-size="60.8">NO</text><text class="d" x="83.8" y="369.8" font-size="46">2</text>
<text class="d" x="19.3" y="678.6" font-size="61.2">O</text><text class="d" x="64.5" y="707.1" font-size="46">3</text>
<rect x="1875.4" y="297.4" width="40.6" height="41.2" fill="#961b1e" stroke="#222" stroke-width="0.9"/>
<rect x="1875.4" y="338.6" width="40.6" height="41.2" fill="#d92b2c" stroke="#222" stroke-width="0.9"/>
<rect x="1875.4" y="379.8" width="40.6" height="40.6" fill="#ec6c2e" stroke="#222" stroke-width="0.9"/>
<rect x="1875.4" y="420.4" width="40.6" height="41.2" fill="#edb043" stroke="#222" stroke-width="0.9"/>
<rect x="1875.4" y="461.6" width="40.6" height="40.8" fill="#f0ee9c" stroke="#222" stroke-width="0.9"/>
<rect x="1875.4" y="502.4" width="40.6" height="40.7" fill="#ffffff" stroke="#222" stroke-width="0.9"/>
<rect x="1875.4" y="543.1" width="40.6" height="41.2" fill="#ffffff" stroke="#222" stroke-width="0.9"/>
<rect x="1875.4" y="584.3" width="40.6" height="40.9" fill="#d9f0f7" stroke="#222" stroke-width="0.9"/>
<rect x="1875.4" y="625.2" width="40.6" height="41.2" fill="#a9e3f4" stroke="#222" stroke-width="0.9"/>
<rect x="1875.4" y="666.4" width="40.6" height="40.9" fill="#6aaad9" stroke="#222" stroke-width="0.9"/>
<rect x="1875.4" y="707.3" width="40.6" height="40.8" fill="#3b5fab" stroke="#222" stroke-width="0.9"/>
<rect x="1875.4" y="748.1" width="40.6" height="34.1" fill="#242f66" stroke="#222" stroke-width="0.9"/>
<text class="cb" x="1950.5" y="347.8" text-anchor="middle">.2</text>
<text class="cb" x="1950.5" y="389.0" text-anchor="middle">.15</text>
<text class="cb" x="1950.5" y="429.6" text-anchor="middle">.1</text>
<text class="cb" x="1950.5" y="470.8" text-anchor="middle">.05</text>
<text class="cb" x="1950.5" y="511.6" text-anchor="middle">.01</text>
<text class="cb" x="1950.5" y="552.3" text-anchor="middle">.0</text>
<text class="cb" x="1950.5" y="593.5" text-anchor="middle">-.01</text>
<text class="cb" x="1950.5" y="634.4" text-anchor="middle">-.05</text>
<text class="cb" x="1950.5" y="675.6" text-anchor="middle">-.1</text>
<text class="cb" x="1950.5" y="716.5" text-anchor="middle">-.15</text>
<text class="cb" x="1950.5" y="757.3" text-anchor="middle">-.2</text>
<text class="d" x="1916.5" y="283.5" font-size="34.1" text-anchor="middle">cm s-1</text>
</svg></body></html>
